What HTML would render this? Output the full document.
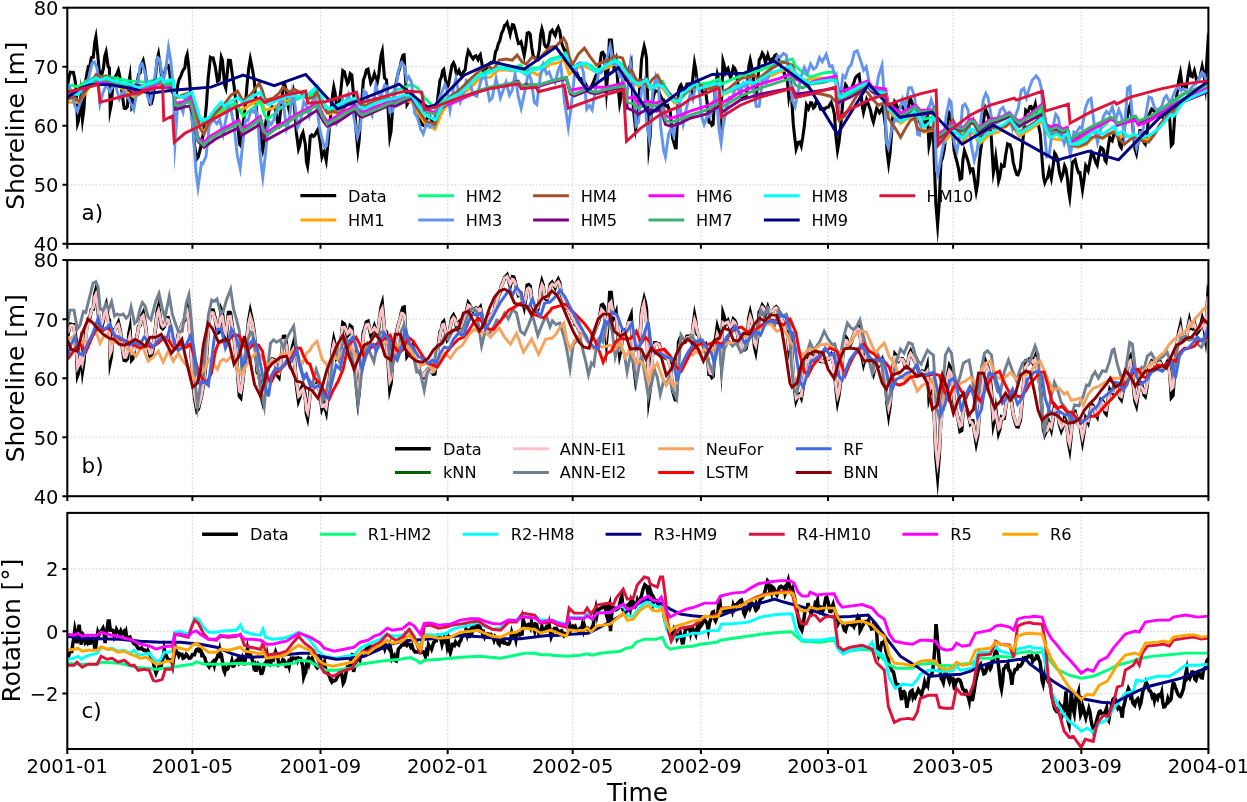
<!DOCTYPE html>
<html lang="en"><head><meta charset="utf-8"><title>Shoreline and rotation time series</title>
<style>html,body{margin:0;padding:0;background:#fff}body{width:1247px;height:802px;overflow:hidden}svg{display:block;will-change:transform}text{font-family:"DejaVu Sans","Liberation Sans",sans-serif;fill:#000}.tk{font-size:19.5px}.lb{font-size:24.9px}.lg{font-size:16.2px}.pl{font-size:21.5px}.s{fill:none;stroke-linejoin:miter;stroke-miterlimit:4;stroke-linecap:butt}.m{stroke-miterlimit:6}.x{stroke-miterlimit:25}</style></head><body>
<svg width="1247" height="802" viewBox="0 0 1247 802">
<rect width="1247" height="802" fill="#fff"/>
<g id="panel-a">
<path d="M192.4 7.7V243.8M320.5 7.7V243.8M447.7 7.7V243.8M572.7 7.7V243.8M700.9 7.7V243.8M828 7.7V243.8M953.1 7.7V243.8M1081.3 7.7V243.8M67.3 184.8H1208.4M67.3 125.7H1208.4M67.3 66.7H1208.4" stroke="#b0b0b0" stroke-opacity="0.44" stroke-width="1.3" stroke-dasharray="1.8 1.75" fill="none"/>
<clipPath id="cp-a"><rect x="67.3" y="7.7" width="1141.1" height="236.2"/></clipPath>
<g clip-path="url(#cp-a)">
<path class="s x" d="M67.7 84.2L69.1 76.5L70.4 72.1L72 72.4L73.4 72.5L74.8 78.9L76 87.4L77.6 123.4L78.4 120.9L79.6 109.8L80.7 96.8L82.5 119.6L83.9 109.4L85.7 80.9L87.1 72.4L88.5 66.2L89.9 65.7L91.3 57.7L92.4 57L93.3 57.1L94.8 42L95.9 37L97.6 53.2L99.3 71.3L100.7 73.5L101.8 74.6L103.4 68.4L104.8 56.2L106.1 52.1L108.1 66.5L109.4 68.1L110.2 109.8L111.3 104.3L112.9 84.2L114.3 77.5L115.7 76.2L117.1 73.3L118.4 70.1L120.1 77.9L121.7 89L123 100.1L124.2 108.2L125.8 108.5L127.4 106.6L128.8 82.2L129.9 76L131.8 107.8L132.8 106.3L134.2 98.4L135.6 89.7L137 84.2L138.6 74.3L140.2 72.9L141.8 63.5L143.2 60.5L144.6 67.9L145.8 76.1L147.1 88.2L148.5 96.8L150.1 104.2L151.4 103.7L153 97L154.4 83.9L155.8 74.1L157.2 59.3L158.5 53.9L160 64.1L161.4 75.3L162.8 76.6L164.3 74.5L165.6 68.7L167 65.8L168.2 65.5L169.7 72.2L171 86.1L172.3 92.2L173.6 93.4L174.9 96.2L176 96.4L177.9 84.2L179.2 79.1L180.6 76.7L181.9 72.9L183.3 69.8L184.8 68.1L186.1 57.6L187.2 54.4L188.6 66.1L189.8 82.1L191.4 105.6L193 128.2L194.8 147.3L196.9 158.9L198.3 156.9L200 150.2L201.7 142.9L203.4 132.4L205 120.1L206.6 102.7L208.1 79L210.4 57.4L211.6 58.1L213.1 58L215.1 66L217.5 81L219.1 80L221.3 57.2L222.3 59.8L223.5 72L224.8 85.4L225.8 88.2L228.5 60.4L229.5 60.4L230.4 60.6L232.4 75.1L234.1 86.1L235.6 99.5L237.1 112.1L238.3 129.5L239.5 144.2L240.8 145.8L242.6 130.3L244.1 116.1L245.6 102.2L247.1 84.1L248.7 68.5L250.3 58.9L252.2 68L254.2 80L255.7 98.7L257.2 120.1L258.7 122.4L260.2 130.2L261.5 145.5L262.7 150.6L264 144.3L265.2 126.2L266.5 118.2L267.9 117.4L269.2 110.1L270.7 109L272.2 106.9L273.7 107.3L275.2 108.1L276.6 116.5L277.9 123.9L278.9 125.3L280.6 110.5L281.9 99.5L283.5 84.4L284.7 84.2L286.2 90.1L287.7 104.5L289.2 110.7L290.6 104.4L291.9 97.2L293.1 92.3L294.8 111.2L296.3 132.2L298.5 149L299.8 145.2L301.3 136.2L303 132.5L305.3 144.2L306.5 161.9L307.6 166.2L309 153.5L310.3 136.2L311.7 134.8L313.4 136.4L314.8 135.3L316.3 132.2L318 129.2L320 141.2L321.9 156.7L323 153.3L324.1 151.5L326.2 160.6L328.3 140.2L329.8 123.6L331.4 108.1L332.6 94.8L333.8 87L335.1 92.9L336.7 107L338.1 105.7L339 105.4L340.9 89.9L342.8 70.7L344.4 72L345.9 77.9L347.5 83.7L348.6 82L350.2 73.6L351.8 75L353.1 90.1L354.4 100.1L356.1 130.4L357.9 150L359.1 140.9L360.4 120.1L361.9 100.2L363.4 80L364.9 76L366.4 70L368 69.1L370.8 83L372.4 80L374.4 73.7L376 78.7L377.3 82.1L378.7 75.4L379.9 64L381.2 54.8L382.3 51L384.5 78L386.5 80L388.5 116.1L389.8 137.2L391 131.5L392.5 110.1L394 98.1L395.5 86.1L397 78.6L398.5 72L400 67.4L401.5 60L403 55.3L404.1 54.9L407 104.5L408 102.8L409.5 100.1L411 98.1L412.5 93.5L414 98.2L415.6 106.1L416.9 111.1L418.2 112.3L419.6 120.1L420.9 121.6L422.2 124.7L423.3 125.3L425.1 120.1L426.1 119.9L427.7 117.2L428.9 117.6L430.1 117.1L431.6 120.1L433.3 122L434.7 121.8L437 104.2L438.5 92L440 80.2L441.4 77L442.7 70.5L443.8 69.3L445.5 80L447.2 87.3L448.5 84.7L450 76.2L451.9 65.6L453.5 62.9L454.9 65.8L456.4 74.4L457.6 73.3L459 70.5L460.6 75.1L461.9 75.6L463.6 71.6L465.1 70.1L466.6 58.8L468.3 50.7L469.6 52.7L471.1 56.1L473.1 58.9L474.6 56.5L475.9 55.8L478 59.6L479.3 56.2L480.3 54.7L481.8 62.9L483.4 73.3L484.6 71.3L486.1 68.1L487.7 67.1L489.3 63.7L490.9 62.5L492.4 63L494.2 60.1L495.5 51.7L496.8 49.9L498.2 44.1L499.8 40.9L501.5 33.5L503.2 30L504.7 25.3L505.7 25L507.1 22.8L508.7 28.4L510.2 34.4L512.5 24.7L513.7 25L515.2 30L516.7 36.7L518.5 43.6L519.7 43.3L521 41.9L522.7 48.6L524.2 55.4L525.7 46.5L527.2 33.1L528.7 32.5L530.2 34.1L531.7 47.2L533.2 56.1L534.8 57.7L536.2 59.3L537.8 57.4L539.3 50.1L540.6 34.9L541.9 28.9L543.1 33L544.3 44.1L545.8 47L547.1 47.5L548.8 42.5L550.3 32.1L552.2 30.1L553.8 33.2L555.2 35.6L556.8 29.8L558.2 27.1L559.8 31.1L561.3 42.1L562.8 46.3L564.3 50.1L565.7 50.1L567 56.1L568.3 56.1L569.9 61.1L570.8 61.3L572.3 66.1L573.7 66.7L575 72.1L576.4 72.1L577.9 75.6L579.4 79.1L580.9 78.7L582.5 81.8L584 81.4L585.6 84L587.4 88L588.7 87.8L590.3 88.9L592 85.2L593.6 81.6L595.2 77.7L596.8 73.6L598.4 70.1L599.9 64.3L601.4 53.1L602.8 52.4L604.4 55.1L606.5 89.8L607.9 72L609.4 40.1L611.4 40.1L613.8 66.5L614.9 64.5L616.1 60.3L618 85.1L619.7 103.5L621 97.3L622.8 77.2L624 77.7L625.5 79.5L627 78L628.5 70.1L630 65.9L631.1 62.6L633.5 110.2L635.6 128.8L637 120.5L638.5 106.2L640 84.7L641.5 60.1L642.8 52.8L644.2 46.3L645.3 50.6L646.5 58.1L648.9 146.3L650 137.4L651.5 110.2L653 98.9L654.8 90.6L656 90.7L657.5 91.5L659 91.9L660.6 96.2L662.1 99.3L663.6 99.9L665.1 105.7L666.6 106.2L667.7 105.6L669.5 110.7L670.2 111.1L672.6 138.3L673.9 142.9L675.3 147.7L676.2 147.8L678.6 90.2L680 86.2L681 84.9L682.5 89.2L684 90.1L685.5 89.7L687 84.1L688.5 84.1L689.7 83.8L691.7 90.1L693.3 73L694.5 62.8L695.8 69.7L697.1 82.1L698.6 83L700.1 88.1L701.6 89.9L703.3 93.6L704.6 93.2L705.7 92.1L707.6 106.3L709.1 122.2L710.4 122.3L711.9 125.3L713.1 124.2L715.1 90.1L717.3 74.1L718.6 78.8L720.1 88.1L721.2 110.1L723 60.9L723.8 63.6L725.4 72.4L726.6 69.5L727.9 68.1L730.3 77.2L731.6 74.9L733.4 67L734.7 68.4L736.2 72.1L737.7 82.9L739.2 90.1L740.7 94.2L742.3 98.5L743.7 97.3L744.8 97.7L746.2 96.2L747.5 84.2L748.9 66L750.2 59.9L751.7 67L753.2 76.1L754.5 94.3L755.7 99.8L757.5 85.6L759.2 60.1L760.7 57.6L762.3 53.1L763.7 55.4L765.3 62.4L766.5 59.4L767.8 54.9L769 58.9L770.2 60.7L771.9 59L773.1 59.2L774.8 55.6L776.2 54.6L777.8 56.6L779.3 62.1L780.9 65.9L782.5 68.8L784.1 72.7L785.7 78.3L787.3 80.1L788.8 97.1L790 90.5L791 87.2L793.3 124.2L794.6 136.4L796.1 148.9L797.1 145.9L798.3 142.3L800 141.9L801.3 145.8L802.8 136.9L804.3 126.2L806.5 105L808.5 108.7L810.6 102.7L811.8 102.9L813.5 107.9L814.8 106.7L816.4 101.2L817.9 103.4L818.8 103.6L820.4 109.2L821.7 109.5L823 108.7L824.3 109.6L825.7 108L827 107.2L828.4 107.2L829.9 104.6L831.2 102.4L832.9 107.7L834.4 114.2L835.9 135.9L837.5 150.3L838.9 142.8L840.4 130.2L841.9 112.1L843.4 96.2L845.6 84.7L846.9 86.7L848.7 94.4L849.8 93.2L851.1 90.9L852.4 86.1L853.8 82.8L855.2 78.2L856.6 76.3L858.1 74.9L859.1 74.3L860.8 88.8L862.1 105L863.5 112.4L865 106.4L866.6 99.7L867.8 102.8L869.1 106.3L870.5 110.2L872 117.8L873.4 122.1L875 115.4L876.7 108.4L878 110.2L879.5 112.8L881 110.5L882.4 107.5L884 114.7L885.5 126.2L887 151L888.6 163.4L890 153.5L891.5 134.3L893 115.1L894.8 101.7L895.9 103.1L897.2 107.8L898.4 109L900.1 106.6L901.2 107L902.4 106.6L903.9 109L905.2 115.3L906.4 115.7L907.9 112.3L909.2 102L910.6 98.8L912.2 103.4L913.9 107.4L915.6 110.2L917.1 113.3L918.5 119.3L920 122.3L922.2 119L923.5 119.8L924.9 122.9L926.3 117.2L927.3 113.6L929 145.9L929.8 142.3L931.4 128.2L932.4 128.3L933.2 128.6L934.3 162.3L935.9 204.5L937.6 225L939.2 203.7L940.9 162.3L942.5 157.8L944.1 150.2L945.6 138.6L947.1 126.2L949.4 113.2L951.1 116.2L952.6 130.7L954.1 150.2L955.6 156.8L957.1 162.3L958.4 168.1L960.1 179.2L961.7 178.3L962.9 160L964.4 150.7L965.6 154L967.1 158.3L968.6 163.4L970.3 171.2L971.6 168.7L972.9 168.7L974.7 181.3L976.2 191.4L977.7 183.2L979.2 162.3L980.7 149.2L982.2 140.2L983.7 119.1L985.4 108.7L986.7 112.3L988.2 116.2L989.7 123.8L991.2 136.2L993.4 172.6L994.5 167L995.8 157.1L997.1 167.9L998.6 181L999.8 177L1001.5 165.2L1002.9 166.7L1004.2 166.3L1005.7 154.8L1007.6 144L1008.9 144.7L1010 144.8L1011.7 150.3L1013.2 162.3L1015.3 170.3L1016.8 174.5L1018 174.8L1020.3 168.3L1021.8 152.3L1023.3 136.2L1025.7 110.3L1026.8 111.5L1028.1 111.7L1029.8 106.6L1031 106.5L1033.1 111.2L1035.3 104L1037.3 116.2L1038.8 126.8L1040.3 134.2L1042.3 162.3L1043.5 177.1L1044.8 182.6L1046 179.5L1047.3 178.3L1049.2 170L1051.3 178.4L1052.8 168.2L1054.7 153L1055.9 154.7L1057.4 158.3L1059.4 172.3L1061.3 178.8L1062.9 174.4L1064.6 165.8L1065.9 168.6L1067.4 178.3L1068.6 190.8L1069.7 197.3L1071.1 183.2L1072.4 162.3L1073.9 161L1075.1 159.8L1076.9 167.9L1078.6 172.6L1079.9 172.6L1082.5 189.9L1083.9 180.6L1085.7 165.5L1086.9 167.4L1088.2 170.5L1089.9 161.6L1091.7 152L1092.9 153.3L1094.4 158.3L1095.9 162.7L1097.2 165.1L1099 154.6L1100.7 147.4L1102 148.2L1103.5 150.2L1105 160.3L1106.1 161.8L1108 148.7L1109.7 137.5L1111 139.8L1112.2 140.9L1114 134L1115.4 131.9L1117 135.4L1118.5 138.2L1120 145.9L1121.3 147.8L1123 139.3L1124.5 126.2L1126 121.3L1127.5 116.2L1129 108L1130.3 104.8L1132 118.1L1133.5 134.2L1135 149.3L1136.4 153.7L1138 142.5L1139.8 130.6L1141.1 130.6L1142.6 136.2L1144.1 142.8L1145.3 144.2L1147.1 133.9L1148.6 116.2L1150.1 112.3L1151.7 108.9L1153.1 109.8L1154.6 112.1L1156.1 115.6L1157.4 115.7L1158.8 110.1L1159.9 109.1L1161.2 111.9L1162.6 116.3L1163.7 114.6L1164.9 114.5L1166.1 111.9L1167.3 109.8L1168.5 112.1L1169.7 118.5L1171.3 145.4L1172.9 143.4L1174.8 114.5L1176 101.6L1177.2 92.1L1178.8 79.9L1180.4 72.7L1182.5 88.1L1183.7 88.2L1184.9 85.3L1186.5 86.6L1188.1 74.8L1189.4 67.7L1191 76L1192.3 76.7L1194.4 70.7L1196.9 81.5L1198.6 79.2L1200.2 76L1202.2 66.5L1203.9 74.4L1205.4 85.8L1206.7 63.2L1208 41.9L1208.5 44" stroke="#000000" stroke-width="3.1"/>
<path class="s" d="M67.6 102.2L79 102.2L86.1 92.2L96.1 77.1L106.1 79.1L120.1 87.2L134.2 97.2L146.2 90.2L161.2 79.1L164.3 85.2L172.3 88.2L174.7 98.2L184.9 95.8L191 94.1L195 108.1L200 127.2L204 132.2L209.1 121.1L215.1 115.1L225.1 110.1L235.1 103.1L240.1 110.1L245.1 108.1L253.2 103.1L260.2 99.1L265.2 110.1L273.2 108.1L281.2 102.1L289.3 100.1L297.3 97.1L305.3 94.1L309.3 98.1L317.3 95.1L323.3 107.1L329.3 114.1L337.4 111.1L345.4 105.1L355.4 101.1L359.4 110.1L365.4 111.1L375.5 106.1L385.5 104.1L395.5 105.1L403.5 100.1L411.5 102.1L417.6 112.1L425.6 124.2L435 129.2L442 112.2L450 101.2L460.1 96.2L470.1 88.2L480.1 78.2L490.1 77.2L498.2 70.1L506.2 70.1L514.2 71.1L520.2 70.1L526.2 75.2L532.2 72.1L538.3 75.2L544.3 69.1L550.3 64.1L556.3 63.1L564.3 60.1L569.3 74.2L574.3 70.1L582.4 65.1L590.4 69.1L596.4 72.1L602.4 70.1L614.4 64.1L622.5 67.1L627.5 76.2L632.5 82.2L638.5 86.2L646.5 82.2L650.5 89.2L656.5 86.2L662.6 88.2L668.6 96.2L674.6 103.2L680 102.2L682 96.2L696.1 85.1L719.1 86.1L721.7 95.2L740.2 87.1L762.2 80.1L776.3 73.1L790.3 68.1L795.3 75.1L802.3 80.1L810.3 79.1L820.4 78.1L836 79.1L838.4 97.2L850.4 94.2L867.5 84.1L876.5 93.2L885.5 94.2L888.5 110.2L900.6 123.2L914.6 113.2L920 120.2L924 132.2L932.1 130.2L935.1 119.2L938.1 143.2L944.1 143.2L950.1 134.2L958.1 140.2L963.1 142.2L970.1 132.2L974.2 134.2L979.2 144.2L990.2 134.2L998.2 132.2L1010.2 123.2L1014.3 129.2L1019.3 136.2L1030.3 129.2L1042.3 121.2L1046.3 132.2L1050.3 138.2L1062.4 140.2L1067.4 136.2L1070.4 146.2L1078.4 147.2L1086.4 144.2L1096.4 134.2L1102.5 138.2L1114.5 130.2L1118.5 136.2L1130.5 136.2L1140.6 140.2L1148.6 139.2L1160 127.2L1170.5 113.7L1183.3 100.1L1207.4 89.7L1208.5 89.4" stroke="#FFA500" stroke-width="2.95"/>
<path class="s" d="M67.6 86.2L72 85.2L78 87.2L86.1 81.1L96.1 77.1L106.1 76.1L120.1 79.1L130.2 81.1L146.2 82.1L161.2 78.1L164.3 82.1L173.3 81.1L174.7 96.2L184.9 97.8L192 93.1L196 108.1L200 120.1L204 123.2L209.1 119.1L215.1 114.1L225.1 108.1L235.1 103.1L239.1 109.1L243.1 116.1L249.2 111.1L255.2 106.1L260.2 101.1L264.2 114.1L267.2 119.1L273.2 115.1L281.2 107.1L289.3 103.1L297.3 99.1L305.3 95.1L309.3 96.1L317.3 90.1L323.3 103.1L329.3 110.1L337.4 107.1L345.4 103.1L355.4 98.1L359.4 103.1L365.4 105.1L375.5 102.1L385.5 98.1L395.5 90.1L403.5 88.1L411.5 84.1L417.6 88.1L425.6 99.1L435 108.1L436 106.2L442 102.2L450 96.2L460.1 90.2L470.1 83.2L480.1 74.2L490.1 70.1L498.2 67.1L506.2 68.1L514.2 68.1L520.2 65.1L526.2 71.1L532.2 68.1L538.3 68.1L544.3 64.1L550.3 59.1L558.3 57.1L565.3 53.1L570.3 66.1L574.3 66.1L582.4 63.1L590.4 65.1L596.4 70.1L602.4 68.1L614.4 59.1L622.5 65.1L627.5 74.2L632.5 79.2L638.5 83.2L646.5 79.2L650.5 87.2L656.5 83.2L662.6 81.2L668.6 94.2L674.6 101.2L680 100.2L690 88.1L700.1 84.1L710.1 82.5L719.1 79.1L721.7 84.1L730.1 80.1L740.2 76.1L750.2 73.1L760.2 70.1L770.2 66.1L780.3 62.1L792.3 59.1L795.3 66.1L802.3 72.1L810.3 77.1L822.4 73.1L830.4 72.1L836 73.1L838.4 90.1L844.4 94.2L854.4 88.1L867.5 81.1L872.5 87.1L878.5 90.1L885.5 92.1L888.5 108.2L894.5 112.2L900.6 118.2L910.6 110.2L915.6 107.2L920 114.2L924 119.2L932.1 117.2L935.1 112.1L938.1 139.2L944.1 135.2L950.1 127.2L958.1 129.2L963.1 132.2L970.1 123.2L974.2 124.2L979.2 134.2L990.2 125.2L998.2 122.2L1010.2 116.2L1014.3 122.2L1019.3 127.2L1030.3 120.2L1042.3 110.1L1046.3 128.2L1050.3 132.2L1062.4 133.2L1067.4 129.2L1070.4 142.2L1078.4 141.2L1086.4 136.2L1096.4 127.2L1102.5 127.2L1110.5 119.2L1114.5 120.2L1117.5 125.2L1130.5 121.2L1136.5 118.2L1140.6 123.2L1150.6 119.2L1160 112.1L1170.5 104.9L1183.3 94.5L1207.4 85.7L1208.5 85.3" stroke="#00FF7F" stroke-width="2.95"/>
<path class="s x" d="M67.6 84.2L70 88.2L75 106.2L77.5 111.5L82.1 96.2L88.1 80.1L92.1 63.1L94.3 61.8L97.1 68.1L100 104L103.1 92.2L106.5 84.6L110.1 91.6L113.4 85.1L116.1 87.2L119.3 99.1L123.4 91.4L127.2 95.2L130.6 103.2L133.8 109.8L137.2 89.2L140.2 65.1L142 63.6L145.2 73.1L147.6 97.2L150.3 102.7L153.8 84.2L157.6 57.5L159.6 59.1L162.9 81.5L165.3 73.1L168.5 47.5L170.7 60.1L173.3 87.2L175 142.6L177.3 110.2L179.6 103.7L183 112.3L184.9 100.2L187 94.8L190 103.1L193 128.2L196 172.3L198 187.5L201.5 163L203 163.5L206.1 156.2L209.1 126.2L213.1 119.4L216.9 123.6L219.7 119.6L223.1 134.2L226.1 118.1L228.5 107L231.1 110.1L234.1 126.2L237.1 154.2L240.2 168.4L243.1 140.2L245.6 119.8L247.8 120.7L251.4 110.1L253.9 112.1L255.9 109.1L258.2 126.2L260.2 156.2L262.8 177.3L265.2 156.2L268.7 121.6L271.2 124.4L274.2 119.1L277.2 108.1L280.4 100L283.2 102.1L286.6 128.7L289.3 120.1L292.4 91.7L294.3 100.1L297.7 127.5L300.3 122.1L303.7 101.8L306.3 106.1L309.2 115.8L312.3 102.1L315 94.5L317.3 109.1L319.3 126.2L321.3 136.2L324.6 147.3L326.3 146.2L328.3 130.2L330.3 126.2L333.4 120.7L336.1 123.9L339.4 112.1L342.5 99.1L345.3 104L348.5 94.4L351.4 104.1L354.4 120.1L357.5 137L360.4 126.2L363.9 90.8L366.4 93.1L369.4 110.1L372 115.2L375.8 85.2L378.5 94.1L381.2 95.3L384.7 85L386.5 86.1L389.9 112.2L392.5 111.1L395.5 90.1L398.5 70L401.7 62.4L404.5 66L406.7 80.5L408.8 76.8L411.5 82.1L414.6 113.1L417.6 118.1L420.6 129.2L423.3 133.8L426.8 122.8L429.7 127.1L432.5 125.1L434.5 126.7L437 104.2L441 94.2L444.9 84.7L447 90.2L450 109.9L453.1 90.2L455.9 78.4L460.4 101.7L463.1 94.2L466.4 80.6L470.1 84.2L473.1 94.2L476.8 96.3L481.1 80.2L484.7 73.4L489.6 100.6L492.1 98.2L496.1 78.7L500.4 97.9L503.2 90.2L506 82.2L509.5 95.3L512.2 90.2L515.1 74L518.2 96.2L521.2 108.2L524.2 94.2L528.4 72.3L531.2 80.2L534.3 102.2L536.8 104.5L540.3 76.2L543.3 64.5L546.6 74L549.1 71.9L552.3 80.2L555 82.8L558.3 70.1L560.8 64.4L564.3 100.2L568.3 127.5L571.3 106.2L574.3 76.2L577.4 64.1L580.1 62.8L583.4 72.1L586.8 109.1L589.4 105.4L592.1 109.9L595.4 90.2L598.8 71.7L601.3 73L604.4 66.1L607.4 56.1L610.2 45.7L613.9 64.5L616.1 63.6L619.7 76.8L622 74.6L625.5 105.7L627.5 90.2L630.5 63L632.5 76.2L636.1 125.6L638.5 122.3L641.5 90.2L644 82.5L646.5 122.3L649.2 139.1L652.5 94.2L655.8 76.4L658.5 84.2L660.6 126.3L663.6 150.3L665.4 156.8L668.6 134.3L671.2 128.1L673.6 135.4L676.6 118.3L679.6 102.4L681 114.2L683.1 124.4L686 110.2L690 94.6L692.8 100.2L696.4 81.5L699.1 90.1L702.1 118.2L704.1 124.6L707.4 115.6L709.8 116.9L713.1 106.2L715.8 90.3L719.1 130.2L721.1 143L723.1 126.2L726.1 110.2L729.5 97.6L731.8 98.8L736.3 85.5L740 92.6L743.3 83.3L746.1 87.3L750.1 77.7L753.2 88.1L756.2 106.2L759.2 106.2L762.7 78.1L766.1 83.3L770.2 70.1L774.3 66.1L777.5 56.1L780.2 57.4L783.4 53.5L786.3 55.1L789.3 76.1L792.3 100.2L795 106.7L798.3 90.1L801.3 76.1L804.3 67.5L807.3 73.9L810.6 64.1L813.6 69.2L816.4 67.1L819.5 57.6L822.3 61.7L826.2 54.4L829.7 66.3L832.1 65.8L835.4 78.1L838.5 110.7L840.4 96.2L842.9 75.4L845.3 77.7L848.4 68.1L851.4 64.1L854.4 52.1L857.2 50.7L860.5 60.1L863.6 70.2L866.2 66.7L869.5 84.1L872.5 88.1L875.2 95.8L878.5 76.1L882 65.3L884.5 98.2L886.5 142.3L888.4 147.8L891.5 130.2L894.8 119.5L897.2 120.8L900.6 106.2L902.5 99L905.5 107.7L908.6 88.1L911.4 87.6L914.6 96.2L917.6 134.3L919.6 135.2L922.5 112.7L925.1 115.2L928 112.1L931.2 99.8L934.1 108.1L936.5 170.3L937.9 175.2L940.1 162.3L943.1 146.2L946.1 116.2L949.4 100L951.1 102.1L954.1 142.2L956.9 151.5L960.1 134.2L962.5 106.1L965 104L968.1 110.1L971.1 144.2L974.3 160.4L977.2 150.2L980.2 126.2L983.2 100.1L985.8 93.3L988.2 98.1L991.2 116.2L994.3 127.2L997.2 120.2L1000.2 110.1L1003 107.4L1006.4 114.4L1008.8 112.5L1012.4 128.3L1015.3 116.2L1018.3 108.1L1021.3 90.1L1023.9 88.3L1026.5 97.6L1029.3 88.1L1032.3 80.1L1036.2 75.9L1039.3 80.1L1041.3 88.1L1043.3 120.2L1046.8 156.5L1049.3 154.3L1052.3 130.2L1055.7 114.4L1058.4 118.2L1061.4 134.2L1064.3 143.9L1067.1 137.1L1070.4 155.3L1073.9 131.9L1076.2 133.1L1079.6 127.3L1082 128.6L1085.4 108.1L1088.4 100.1L1091 98.4L1094.4 126.2L1097.5 142.6L1100.5 130.2L1103.5 116.2L1106.5 111.4L1109.2 114.1L1112.3 107.1L1115.6 119.9L1118.8 109.7L1121.5 116.2L1124.2 134.3L1127.5 88.1L1130 86.4L1133.5 134.2L1136.5 148L1140 132.6L1142.2 133.9L1145.6 116.2L1148.9 96.9L1151.6 98.1L1154.6 108.1L1157.6 110.1L1160 108.1L1161.7 106.5L1164.1 98.5L1166.4 95.7L1168.9 100.9L1171.3 100.1L1173.7 94.5L1176.1 88.9L1178.4 87.2L1181 90.9L1183.4 88.7L1185.7 90.5L1188.1 92.8L1190.5 88.9L1193 85.7L1195.4 84.1L1197.8 80.9L1200.2 76L1201.9 72.3L1204.2 74.4L1206 80L1207.4 79.2L1208.5 78.9" stroke="#6495ED" stroke-width="2.95"/>
<path class="s" d="M67.6 99.2L74 97.2L79 101.2L86.1 90.2L96.1 74.5L100.1 77.1L106.1 76.1L112.1 79.1L120.1 84.2L130.2 89.2L138.2 94.2L146.2 89.2L154.2 84.2L161.2 77.1L164.3 84.2L172.3 86.2L174.7 97.2L180.3 96.2L184.9 94.2L191 93.1L195 107.1L200 128.2L204 134.2L209.1 122.1L215.1 113.1L225.1 103.1L231.1 95.1L237.5 91.1L243.1 101.1L251.2 94.1L259.2 83.1L262.2 90.1L265.2 100.1L273.2 98.1L279.2 93.1L283.2 87.1L289.3 92.1L294.3 89.1L301.3 93.1L307.3 99.1L313.3 97.1L317.3 92.1L322.3 105.1L327.3 113.1L333.4 111.1L339.4 114.1L347.4 104.1L355.4 99.1L359.4 105.1L365.4 106.1L375.5 101.1L385.5 99.1L395.5 98.1L405.5 95.1L411.5 97.1L417.6 109.1L425.6 121.1L435 124.2L440 110.2L450 97.2L460.1 89.2L470.1 79.2L480.1 70.1L488.1 65.1L493.2 70.1L499.2 60.1L506.2 59.1L512.2 60.1L517.2 55.1L522.2 62.1L526.2 64.1L532.2 57.1L538.3 60.1L544.3 53.1L550.3 47.1L556.3 46.1L563.3 38.1L566.3 43.1L569.3 57.1L572.3 65.1L578.4 54.1L584.4 48.1L590.4 57.1L596.4 65.1L602.4 62.1L608.4 60.1L614.4 56.1L622.5 58.1L627.5 73.2L631.5 70.1L636.5 80.2L642.5 80.2L647.5 86.2L652.5 79.2L657.5 75.2L662.6 85.2L668.6 92.2L674.6 99.2L680 98.2L686 92.1L694.1 87.1L701.1 85.1L705.1 89.1L712.1 88.1L719.1 85.1L721.7 92.1L728.1 89.1L736.2 82.1L742.2 78.1L750.2 77.1L754.2 75.1L758.2 79.1L764.2 74.1L770.2 69.1L776.3 66.1L781.3 62.1L787.3 63.1L792.3 65.1L795.3 73.1L800.3 80.1L808.3 87.1L814.3 93.2L822.4 94.2L830.4 96.2L836.4 102.2L839.4 120.2L844.4 116.2L850.4 106.2L856.4 96.2L862.5 90.1L867.5 92.1L872.5 99.2L878.5 105.2L885.5 102.2L888.5 118.2L892.5 124.2L896.5 130.2L900.6 137.3L905.6 128.2L910.6 120.2L914.6 118.2L917.6 129.2L920 130.2L924 131.2L932.1 129.2L935.1 118.2L938.1 141.2L944.1 134.2L950.1 124.2L953.1 120.2L958.1 131.2L963.1 138.2L970.1 124.2L973.2 119.2L979.2 136.2L990.2 128.2L998.2 127.2L1006.2 126.2L1010.2 121.2L1014.3 128.2L1019.3 132.2L1030.3 125.2L1042.3 117.2L1046.3 131.2L1050.3 136.2L1056.4 133.2L1062.4 137.2L1067.4 136.2L1070.4 145.2L1078.4 146.2L1086.4 143.2L1090.4 138.2L1096.4 136.2L1102.5 138.2L1108.5 134.2L1114.5 132.2L1118.5 138.2L1124.5 144.2L1130.5 139.2L1136.5 136.2L1142.6 141.2L1148.6 142.2L1154.6 134.2L1160 124.2L1170.5 112.9L1183.3 99.3L1207.4 88.9L1208.5 88.5" stroke="#A0522D" stroke-width="2.95"/>
<path class="s" d="M67.6 94.6L78 93.8L86.1 88.2L96.1 83.8L106.1 81.1L120.1 84.6L134.2 85.2L146.2 86.2L156.2 80.1L161.2 82.1L164.3 87.2L173.3 87.2L175.3 109.2L180.3 108.2L184.9 106.6L190 106.1L194 118.1L198 141.2L204 147.2L215.1 139.2L231.1 131.2L238.7 128.2L242.1 135.2L260.2 124.2L263.6 137.2L266.2 140.2L275.2 135.2L297.3 123.2L317.3 110.1L323.3 121.1L327.3 126.2L337.4 122.1L355.4 110.1L359.4 116.1L362.4 117.1L371.4 113.1L389.5 105.1L395.5 106.1L411.5 98.1L417.6 106.1L425.6 113.1L435 112.5L436 115.5L442 107.4L450 102.2L460.1 99.2L470.1 95.2L480.1 91.2L490.1 88.2L504.2 85.6L518.2 81.2L521.2 85.8L526.2 84.6L534.3 85.8L538.3 86.6L550.3 82.6L566.3 78.6L570.3 93.8L574.3 95.8L586.4 90.8L590.4 92.8L596.4 93.8L606.4 90.8L616.4 88.6L624.5 87.2L627.5 108.2L634.5 111.2L638.5 114.3L646.5 109.2L656.5 111.2L660.6 109.2L665.6 124.3L670.6 126.3L680 123.3L690 118.2L706.1 114.2L719.1 106.2L721.7 112.2L740.2 100.2L760.2 94.2L780.3 90.1L792.3 88.1L795.3 94.2L810.3 92.1L836 88.1L838.8 102.2L850.4 97.2L867.5 86.1L872.5 92.1L885.5 95.2L888.5 109.2L900.6 118.2L915.6 109.2L920 114.2L932.1 113.2L935.1 110.1L938.1 137.2L944.1 133.2L952.1 127.2L958.1 129.2L963.1 130.2L970.1 122.2L974.2 123.2L979.2 130.2L990.2 123.2L998.2 121.2L1010.2 116.2L1014.3 120.2L1019.3 126.2L1030.3 120.2L1042.3 114.2L1046.3 127.2L1050.3 130.2L1056.4 129.2L1062.4 132.2L1067.4 131.2L1070.4 141.2L1078.4 137.2L1090.4 129.2L1098.5 125.2L1110.5 119.2L1114.5 120.2L1117.5 125.2L1130.5 120.2L1135.5 118.2L1138.5 123.2L1150.6 118.2L1160 113.2L1170.5 108.1L1183.3 101.7L1207.4 92.1L1208.5 91.8" stroke="#800080" stroke-width="2.95"/>
<path class="s" d="M67.6 93.8L78 92.6L86.1 87.2L96.1 82.6L106.1 82.1L120.1 86.2L134.2 90.2L146.2 87.8L161.2 82.6L164.3 86.2L173.3 85.8L175.3 103.2L180.3 102.6L184.9 101.2L190 98.7L193 109.7L198 137.2L204 142.2L209.1 136.8L221.1 129.8L231.1 124.6L238.7 120.1L242.1 128.8L249.2 124.8L260.2 116.5L263.6 128.8L267.2 132.6L275.2 126.8L285.2 121.7L297.3 113.7L307.3 108.7L317.3 102.7L323.3 115.7L327.3 121.7L337.4 115.7L345.4 110.7L355.4 105.7L359.4 110.7L362.4 112.7L371.4 108.7L381.5 104.7L389.5 100.7L395.5 100.7L403.5 97.1L411.5 94.5L417.6 101.1L425.6 110.1L435 112.5L436 112.6L442 105.8L450 104.2L460.1 99.6L470.1 95L480.1 90.6L490.1 87.6L504.2 85L518.2 82.6L521.2 85.6L526.2 86.6L534.3 84.6L538.3 85.6L550.3 81.6L566.3 77.6L570.3 90.2L586.4 87.2L606.4 87.2L623.5 83.2L627.5 98.2L634.5 97.2L638.5 104.2L646.5 101.2L656.5 103.2L660.6 101.2L665.6 115.3L670.6 118.3L680 115.3L690 111.2L706.1 106.2L719.1 99.2L721.7 103.2L740.2 92.1L760.2 84.1L780.3 78.1L790.3 73.7L793.3 78.1L802.3 82.1L810.3 82.5L822.4 79.1L836 76.1L838.8 92.1L850.4 88.1L867.5 81.1L872.5 87.1L885.5 89.1L888.5 104.2L900.6 113.2L915.6 105.2L920 110.2L932.1 110.1L935.1 107.1L938.1 134.2L944.1 130.2L953.1 123.2L958.1 127.2L963.1 128.2L970.1 119.2L974.2 120.2L979.2 128.2L990.2 119.2L998.2 118.2L1010.2 113.2L1014.3 118.2L1019.3 121.2L1030.3 114.2L1042.3 104.1L1046.3 124.2L1050.3 127.2L1056.4 125.2L1062.4 129.2L1067.4 127.2L1070.4 142.2L1078.4 138.2L1090.4 130.2L1098.5 126.2L1110.5 119.2L1114.5 120.2L1117.5 124.2L1130.5 121.2L1135.5 120.2L1138.5 125.2L1150.6 120.2L1160 114.2L1170.5 106.5L1183.3 99.3L1207.4 88.1L1208.5 87.7" stroke="#FF00FF" stroke-width="2.95"/>
<path class="s" d="M67.6 90.6L78 90.2L86.1 85.2L96.1 80.1L106.1 80.1L120.1 83.8L134.2 89.2L146.2 86.2L161.2 81.1L164.3 85.2L173.3 84.2L175.3 105.2L180.3 105.2L184.9 103.2L190 101.1L193 112.1L198 140.2L204 145.2L209.1 139.2L221.1 132.2L231.1 127.2L238.7 123.2L242.1 131.2L249.2 127.2L260.2 119.1L263.6 131.2L267.2 135.2L275.2 129.2L285.2 124.2L297.3 116.1L307.3 111.1L317.3 105.1L323.3 118.1L327.3 124.2L337.4 118.1L345.4 113.1L355.4 108.1L359.4 113.1L362.4 115.1L371.4 111.1L381.5 107.1L389.5 103.1L395.5 103.1L403.5 99.1L411.5 96.1L417.6 103.1L425.6 112.1L435 114.1L436 114.3L442 106.2L450 101.2L460.1 98.2L470.1 94.2L480.1 90.2L490.1 87.2L504.2 84.6L518.2 82.2L521.2 85.2L526.2 86.2L534.3 84.2L538.3 85.2L550.3 81.2L566.3 77.2L570.3 92.2L574.3 94.2L586.4 89.2L590.4 91.2L596.4 92.2L606.4 89.2L616.4 87.2L624.5 86.2L627.5 102.2L634.5 104.2L638.5 108.2L646.5 104.2L656.5 106.2L660.6 104.2L665.6 120.3L670.6 122.3L680 119.3L690 115.2L706.1 110.2L719.1 102.2L721.7 107.2L740.2 96.2L760.2 88.1L780.3 81.7L792.3 78.1L795.3 85.1L802.3 88.1L810.3 84.1L822.4 82.5L836 79.1L838.8 99.2L850.4 94.2L867.5 84.1L872.5 90.1L885.5 93.2L888.5 107.2L900.6 116.2L915.6 107.2L920 112.2L932.1 111.1L935.1 108.1L938.1 136.2L944.1 132.2L952.1 125.2L958.1 128.2L963.1 129.2L970.1 121.2L974.2 121.2L979.2 129.2L990.2 121.2L998.2 119.2L1010.2 114.2L1014.3 119.2L1019.3 123.2L1030.3 116.2L1042.3 106.1L1046.3 127.2L1050.3 130.2L1056.4 127.2L1062.4 131.2L1067.4 129.2L1070.4 139.2L1078.4 134.2L1090.4 127.2L1098.5 123.2L1110.5 117.2L1114.5 118.2L1117.5 123.2L1130.5 118.2L1135.5 116.2L1138.5 121.2L1150.6 116.2L1160 110.1L1170.5 102.5L1183.3 93.7L1207.4 84.1L1208.5 83.7" stroke="#3CB371" stroke-width="2.95"/>
<path class="s" d="M67.6 95.8L72 93.2L78 94.6L86.1 84.2L96.1 77.7L100.1 80.1L106.1 77.7L112.1 80.1L120.1 82.1L130.2 84.2L138.2 87.8L146.2 84.6L154.2 82.1L161.2 77.7L164.3 82.6L169.3 79.7L173.3 80.1L174.7 94.6L180.3 97.2L184.9 95.8L192 92.1L196 105.1L200 118.1L204 120.1L209.1 117.1L215.1 109.1L221.1 102.1L224.1 106.1L231.1 101.1L238.1 97.7L243.1 103.1L251.2 97.1L260.2 92.1L264.2 102.1L269.2 105.1L275.2 101.1L285.2 97.7L293.3 95.1L301.3 97.1L309.3 93.1L317.3 85.7L321.3 95.1L325.3 107.1L331.4 108.1L337.4 105.1L345.4 101.1L355.4 98.1L359.4 107.1L365.4 108.1L375.5 103.1L385.5 100.1L395.5 98.1L403.5 95.1L411.5 95.1L417.6 105.1L425.6 115.1L435 120.1L436 119.3L442 106.2L450 98.2L460.1 93.2L470.1 84.2L478.1 76.2L484.1 75.2L490.1 72.1L498.2 68.1L506.2 69.1L514.2 70.1L520.2 71.1L526.2 74.2L532.2 70.1L538.3 69.1L544.3 66.1L550.3 61.1L556.3 59.1L562.3 57.1L566.3 55.1L570.3 68.1L574.3 67.1L580.4 64.1L586.4 63.1L590.4 68.1L596.4 72.1L602.4 68.1L608.4 64.1L614.4 61.1L618.5 63.1L622.5 67.1L627.5 74.2L632.5 80.2L638.5 84.2L646.5 80.2L650.5 88.2L656.5 85.2L662.6 86.2L668.6 94.2L674.6 101.2L680 100.2L682 94.2L690 88.1L696.1 82.1L698.1 89.1L706.1 86.1L719.1 83.1L721.7 94.2L730.1 90.1L740.2 85.1L746.2 82.1L754.2 83.1L762.2 78.1L770.2 73.1L776.3 71.1L782.3 69.1L790.3 66.1L795.3 73.1L802.3 79.1L810.3 83.1L820.4 81.1L830.4 80.1L836 81.1L838.4 96.2L842.4 97.2L850.4 92.1L860.5 86.1L867.5 83.1L870.5 88.1L876.5 92.1L885.5 93.2L888.5 109.2L894.5 114.2L900.6 121.2L906.6 118.2L914.6 111.2L920 118.2L924 127.2L932.1 120.2L935.1 116.2L938.1 142.2L944.1 138.2L952.1 130.2L958.1 134.2L963.1 138.2L970.1 129.2L974.2 130.2L979.2 141.2L986.2 134.2L994.2 131.2L998.2 127.2L1004.2 124.2L1010.2 119.2L1014.3 125.2L1019.3 133.2L1026.3 129.2L1034.3 124.2L1042.3 118.2L1046.3 130.2L1050.3 137.2L1056.4 134.2L1062.4 138.2L1067.4 133.2L1070.4 144.2L1078.4 144.2L1086.4 140.2L1090.4 134.2L1096.4 130.2L1102.5 134.2L1108.5 130.2L1114.5 126.2L1117.5 134.2L1122.5 131.2L1128.5 137.2L1134.5 134.2L1140.6 138.2L1146.6 136.2L1152.6 133.2L1160 127.2L1170.5 114.5L1173.7 116.1L1183.3 101.7L1191.3 97.7L1207.4 90.5L1208.5 90.2" stroke="#00FFFF" stroke-width="2.95"/>
<path class="s" d="M67.6 97.2L80 88.2L90.1 84.6L110.1 84.6L130.2 88.2L150.2 93.2L172.3 90.2L184.9 89.2L211.1 87.1L243.1 75L274.2 85.7L305.7 74.4L337.4 109.1L399.1 84.1L427.6 107.1L435 105.1L464.1 75.2L493.2 62.1L524.2 69.1L555.9 47.1L587.4 90.2L618.5 67.7L649.5 114.3L680 91.2L690 84.1L712.1 74.5L744.2 73.1L774.3 61.1L808.3 86.1L837.4 134.3L868.5 84.1L899.6 117.2L920 114.2L932.1 112.1L962.1 144.2L993.2 125.2L1056.4 160.3L1088.4 151.2L1118.5 159.9L1160 117.2L1207.4 81.7L1208.5 80.5" stroke="#000080" stroke-width="2.95"/>
<path class="s" d="M67.6 92.2L98.1 84.6L100.1 102.2L162.6 86.2L163.8 120.2L172.7 115.8L174.3 142.3L184.9 133.3L197 127.2L215.1 118.1L235.1 107.1L260.2 97.7L264.8 102.5L285.2 95.1L305.7 91.1L307.7 103.1L325.3 101.7L356.4 92.1L359.4 103.1L385.5 96.1L405.5 91.1L421.6 92.1L424.6 109.7L435 107.1L450 101.2L470.1 94.2L490.1 88.6L518.2 83.8L521.2 88.6L536.3 87.2L538.3 91.8L564.3 85.2L568.3 108.2L590.4 100.2L610.4 93.2L623.5 89.8L626.5 141.3L640.5 128.3L660.6 114.3L680 106.2L690 99.2L719.1 88.1L721.1 117.2L740.2 105.2L760.2 97.2L792.3 88.1L795.3 97.2L810.3 94.2L835.4 87.1L838 118.2L850.4 109.2L870.5 99.2L885.5 94.6L887.5 105.2L900.6 100.2L920 93.8L936.1 90.1L938.1 145.2L950.1 130.2L970.1 115.2L990.2 105.1L1014.3 98.1L1016.3 100.1L1042.3 91.1L1045.3 111.1L1068.4 104.1L1070 123.2L1090.4 112.1L1114.5 101.7L1116.5 104.1L1130.5 97.1L1160 89.1L1183.3 84.1L1207.4 80.9L1208.5 80.7" stroke="#DC143C" stroke-width="2.95"/>
</g>
<rect x="67.3" y="7.7" width="1141.1" height="236.2" fill="none" stroke="#000" stroke-width="2.05"/>
<path d="M67.3 243.8v4.9M192.4 243.8v4.9M320.5 243.8v4.9M447.7 243.8v4.9M572.7 243.8v4.9M700.9 243.8v4.9M828 243.8v4.9M953.1 243.8v4.9M1081.3 243.8v4.9M1208.4 243.8v4.9M67.3 243.8h-4.9M67.3 184.8h-4.9M67.3 125.7h-4.9M67.3 66.7h-4.9M67.3 7.7h-4.9" stroke="#000" stroke-width="2.0" fill="none"/>
<text class="tk" x="58.5" y="251.1" text-anchor="end">40</text>
<text class="tk" x="58.5" y="192.1" text-anchor="end">50</text>
<text class="tk" x="58.5" y="133" text-anchor="end">60</text>
<text class="tk" x="58.5" y="74" text-anchor="end">70</text>
<text class="tk" x="58.5" y="14.9" text-anchor="end">80</text>
</g>
<g id="panel-b">
<path d="M192.4 260.1V496.2M320.5 260.1V496.2M447.7 260.1V496.2M572.7 260.1V496.2M700.9 260.1V496.2M828 260.1V496.2M953.1 260.1V496.2M1081.3 260.1V496.2M67.3 437.2H1208.4M67.3 378.2H1208.4M67.3 319.2H1208.4" stroke="#b0b0b0" stroke-opacity="0.44" stroke-width="1.3" stroke-dasharray="1.8 1.75" fill="none"/>
<clipPath id="cp-b"><rect x="67.3" y="260.1" width="1141.1" height="236.1"/></clipPath>
<g clip-path="url(#cp-b)">
<path class="s x" d="M67.7 336.3L69.1 328.6L70.4 324.2L72 324.5L73.4 324.6L74.8 331L76 339.5L77.6 375.2L78.4 373L79.6 361.9L80.7 350.3L82.5 370.7L83.9 361.5L85.7 333L87.1 324.5L88.5 318.3L89.9 317.8L91.3 309.8L92.4 309.2L93.3 309.1L94.8 294.1L95.9 289.6L97.6 305.3L99.3 323.4L100.7 325.6L101.8 326.6L103.4 320.5L104.8 308.3L106.1 304.5L108.1 318.6L109.4 320.2L110.3 361.2L111.3 356.4L112.9 336.3L114.3 329.6L115.7 328.3L117.1 325.4L118.4 322.5L120.1 330L121.7 341.1L123 352.2L124.2 360.3L125.8 360.6L127.4 358.7L128.8 334.3L129.9 328.8L131.8 359.7L132.8 358.4L134.2 350.5L135.6 341.8L137 336.3L138.6 326.4L140.2 325L141.8 315.6L143.2 312.8L144.6 320L145.8 328.2L147.1 340.3L148.5 348.9L150.1 356.2L151.4 355.8L153 349.1L154.4 336L155.8 326.2L157.2 311.4L158.5 306.5L160 316.2L161.4 327.4L162.7 328.6L164.3 326.6L165.6 320.8L167 317.9L168.1 317.7L169.7 324.3L171 338.2L172.3 344.3L173.6 345.5L174.9 348.3L176 348.4L177.9 336.3L179.2 331.2L180.6 328.8L181.9 325L183.3 321.9L184.8 320.2L186.1 309.7L187.2 306.8L188.6 318.2L189.8 334.2L191.4 357.7L193 380.3L194.8 399.4L196.9 410.8L198.3 409L200 402.3L201.7 395L203.4 384.5L205 372.2L206.6 354.8L208.1 331.1L210.5 309.5L211.6 310.2L213.1 310.1L215.1 318.1L217.5 333L219.1 332.1L221.3 309.6L222.3 311.9L223.5 324.1L224.8 337.5L225.8 340L228.5 312.6L229.5 312.4L230.4 312.8L232.4 327.2L234.1 338.2L235.6 351.6L237.1 364.2L238.3 381.6L239.5 396.3L240.7 397.7L242.6 382.4L244.1 368.2L245.6 354.3L247.1 336.2L248.7 320.6L250.3 311.5L252.2 320.1L254.2 332.1L255.7 350.8L257.2 372.2L258.7 374.5L260.2 382.3L261.5 397.6L262.7 402.3L264 396.4L265.2 378.3L266.5 370.3L267.9 369.5L269.2 362.2L270.7 361.1L272.2 359L273.7 359.4L275.2 360.2L276.6 368.6L277.9 376L278.9 377.3L280.6 362.6L281.9 351.6L283.5 336.5L284.7 336.3L286.2 342.2L287.7 356.6L289.2 362.4L290.6 356.5L291.9 349.3L293.1 344.9L294.8 363.3L296.3 384.3L298.5 400.8L299.8 397.3L301.3 388.3L303 384.9L305.3 396.3L306.5 414L307.5 417.8L309 405.6L310.3 388.3L311.7 387L313.4 388.5L314.8 387.4L316.3 384.3L318 381.6L320 393.3L321.9 408.5L323 405.4L324 403.8L326.2 411.8L328.3 392.3L329.8 375.7L331.4 360.2L332.6 346.9L333.8 339.5L335.1 345L336.7 358.9L338.1 357.9L339 357.5L340.9 342L342.9 323L344.4 324.1L345.9 330L347.5 335.7L348.6 334.1L350.2 325.8L351.8 327.1L353.1 342.2L354.4 352.2L356.1 382.5L357.9 401.3L359.1 393L360.4 372.2L361.9 352.3L363.4 332.1L364.9 328.1L366.4 322.1L368 321.3L370.8 334.8L372.4 332.1L374.4 326.1L376 330.8L377.3 333.9L378.7 327.5L379.9 316.1L381.2 306.9L382.2 303.5L384.5 330.1L386.5 332.1L388.5 368.2L389.8 388.7L391 383.6L392.5 362.2L394 350.2L395.5 338.2L397 330.7L398.5 324.1L400 319.5L401.5 312.1L403 307.4L404.1 307.1L407 356.4L408 354.9L409.5 352.2L411 350.2L412.5 345.9L414 350.3L415.6 358.2L416.9 363.2L418.2 364.4L419.6 372.2L420.9 373.7L422.2 376.8L423.3 377.3L425.2 372.3L426.1 371.9L427.7 369.4L428.9 369.6L430.1 369.3L431.6 372.2L433.3 374.1L434.7 373.9L437 356.3L438.5 344.1L440 332.3L441.4 329.1L442.7 322.6L443.7 321.5L445.5 332.1L447.2 339.2L448.5 336.8L450 328.3L451.9 317.7L453.5 315.1L454.9 317.9L456.4 326.4L457.6 325.4L459 322.8L460.6 327.2L461.9 327.6L463.6 323.7L465.1 322.2L466.6 310.9L468.3 302.9L469.6 304.8L471.1 308.2L473.1 310.9L474.6 308.6L475.9 308L478 311.5L479.3 308.3L480.3 307L481.8 315L483.4 325.2L484.6 323.4L486.1 320.2L487.7 319.2L489.3 315.8L490.9 314.6L492.4 315.1L494.2 312.2L495.5 303.8L496.8 302L498.2 296.2L499.8 293L501.5 285.6L503.2 282.1L504.7 277.4L505.6 277L507.1 275.1L508.7 280.5L510.2 286.1L512.5 276.9L513.7 277.1L515.2 282.1L516.7 288.8L518.5 295.6L519.7 295.4L521 294.1L522.7 300.7L524.2 307.1L525.7 298.6L527.2 285.2L528.7 284.6L530.2 286.2L531.7 299.3L533.2 308.2L534.8 309.8L536.2 311.3L537.8 309.5L539.3 302.2L540.6 287L541.9 281.3L543.1 285.1L544.3 296.2L545.8 299.1L547 299.5L548.8 294.6L550.3 284.2L552.1 282.3L553.8 285.3L555.1 287.5L556.8 281.9L558.2 279.4L559.8 283.2L561.3 294.2L562.8 298.4L564.3 302.2L565.7 302.2L567 308.2L568.3 308.2L569.9 313.1L570.8 313.5L572.3 318.2L573.7 318.8L575 324.2L576.4 324.2L577.9 327.7L579.5 330.9L580.7 331.1L582.5 333.8L583.9 333.9L585.6 336.1L587.4 340.1L588.7 339.9L590.3 340.9L592 337.3L593.6 333.7L595.2 329.8L596.8 325.7L598.4 322.2L599.9 316.4L601.4 305.2L602.8 304.6L604.4 307.2L606.5 340.4L607.9 324.1L609.8 292.5L611.1 292.5L613.8 318.4L614.9 316.6L616.1 312.9L618 337.2L619.7 355L621 349.4L622.9 329.4L624 329.8L625.5 331.5L627 330.1L628.5 322.2L630 318L631.1 315.1L633.5 362.3L635.6 380.2L637 372.6L638.5 358.3L640 336.8L641.5 312.2L642.8 304.9L644.2 298.7L645.3 302.7L646.5 310.2L648.9 397.4L650 389.5L651.5 362.3L653 351L654.8 342.8L656 342.8L657.5 343.6L659 344L660.6 348.3L662.1 351.4L663.6 352L665.1 357.8L666.6 358.3L667.6 357.8L669.5 362.7L670.2 363.3L672.6 390.4L673.9 395L675.3 399.8L676.2 399.8L678.6 342.3L680 338.3L681 337.1L682.5 341.3L684 342.2L685.5 341.8L687 336.2L688.5 336.2L689.7 336L691.7 341.6L693.3 325.1L694.6 315.5L695.8 321.8L697.1 334.2L698.6 335.1L700.1 340.2L701.6 342L703.3 345.7L704.6 345.3L705.7 344.3L707.6 358.4L709.1 374.3L710.4 374.4L711.9 377.4L713.1 376.3L715.1 342.2L717.3 326.6L718.6 330.9L720.1 340.2L721.2 358.2L723 313.3L723.8 315.7L725.4 324.2L726.6 321.6L727.8 320.3L730.4 329.1L731.6 327L733.4 319.2L734.7 320.5L736.2 324.2L737.7 335L739.2 342.2L740.7 346.3L742.3 350.5L743.7 349.5L744.8 349.8L746.2 348.3L747.5 336.3L748.9 318.1L750.2 312.4L751.7 319.1L753.2 328.2L754.5 346.4L755.7 351.4L757.5 337.7L759.2 312.2L760.7 309.7L762.3 305.4L763.7 307.5L765.3 314.3L766.5 311.5L767.8 307.3L769 311L770.2 312.7L771.9 311.2L773.1 311.2L774.8 307.7L776.2 306.8L777.8 308.7L779.3 314.2L780.9 318L782.5 320.9L784.1 324.8L785.7 330.4L787.3 332.2L788.8 348.5L790 342.6L791 339.6L793.3 376.3L794.6 388.5L796.1 400.7L797.1 398L798.3 394.4L799.9 394.1L801.3 397.5L802.8 389L804.3 378.3L806.5 357.9L808.5 360.4L810.6 354.9L811.8 355L813.6 359.9L814.8 358.8L816.4 353.5L817.9 355.4L818.8 355.8L820.4 361.3L821.7 361.6L823 360.8L824.3 361.7L825.7 360.1L827 359.3L828.4 359.3L829.9 356.7L831.2 354.7L832.9 359.8L834.4 366.3L835.9 388L837.5 401.8L838.9 394.9L840.4 382.3L841.9 364.2L843.4 348.3L845.7 337L846.9 338.8L848.7 346.4L849.8 345.3L851.1 343L852.4 338.2L853.8 334.9L855.2 330.3L856.6 328.4L858.1 327L859.1 326.5L860.8 340.9L862.1 357.1L863.5 364.1L865 358.5L866.6 352L867.8 354.9L869.1 358.4L870.5 362.3L872 369.9L873.4 373.9L875 367.5L876.7 360.6L878 362.3L879.5 364.8L881 362.6L882.3 359.8L884 366.8L885.5 378.3L887 403.1L888.6 414.8L890 405.6L891.5 386.4L893 367.2L894.9 353.9L895.9 355.2L897.2 359.9L898.4 361.1L900.1 358.8L901.2 359.1L902.4 358.8L903.9 361.1L905.2 367.4L906.4 367.7L907.9 364.4L909.2 354.1L910.6 351.1L912.2 355.5L913.9 359.5L915.6 362.3L917.1 365.4L918.5 371.4L920 374.2L922.2 371.1L923.5 371.9L924.9 374.8L926.3 369.3L927.2 366.1L929 397.6L929.8 394.4L931.4 380.4L932.4 380.3L933.2 380.8L934.3 414.4L935.9 456.6L937.6 475.7L939.2 455.8L940.9 414.4L942.5 409.9L944.1 402.3L945.6 390.7L947.1 378.3L949.4 365.5L951.1 368.3L952.6 382.8L954.1 402.3L955.6 408.9L957.1 414.4L958.4 420.2L960.1 431.2L961.7 430.4L962.9 412.1L964.4 403.1L965.6 406.1L967.1 410.4L968.6 415.5L970.3 423.1L971.6 420.8L972.8 420.8L974.7 433.4L976.2 442.9L977.7 435.3L979.2 414.4L980.7 401.3L982.2 392.3L983.7 371.2L985.4 361.1L986.7 364.4L988.2 368.3L989.7 375.9L991.2 388.3L993.4 424.1L994.5 419.1L995.8 409.9L997.1 420L998.6 432.7L999.8 429.1L1001.5 417.5L1002.9 418.7L1004.2 418.4L1005.7 406.9L1007.6 396.2L1008.9 396.8L1010 396.9L1011.7 402.4L1013.2 414.4L1015.3 422.4L1016.8 426.6L1018 426.9L1020.3 420.4L1021.8 404.4L1023.3 388.3L1025.7 362.6L1026.8 363.6L1028.1 363.8L1029.8 358.7L1031 358.7L1033 362.9L1035.3 356.8L1037.3 368.3L1038.8 378.9L1040.3 386.3L1042.3 414.4L1043.5 429.2L1044.8 434.5L1046 431.6L1047.3 430.4L1049.1 422.7L1051.3 429.7L1052.8 420.3L1054.7 405.3L1055.9 406.8L1057.4 410.4L1059.4 424.4L1061.3 430.6L1062.9 426.5L1064.6 418.1L1065.9 420.7L1067.4 430.4L1068.6 442.9L1069.7 448.8L1071.1 435.3L1072.4 414.4L1073.9 413.1L1075.1 412.1L1076.9 420L1078.6 424.6L1079.9 424.8L1082.5 441.2L1083.9 432.7L1085.8 417.8L1086.9 419.5L1088.2 422.4L1089.9 413.7L1091.8 404.3L1092.9 405.4L1094.4 410.4L1095.9 414.8L1097.2 417L1099 406.7L1100.8 399.6L1102 400.3L1103.5 402.3L1105 412.4L1106.1 413.8L1108 400.8L1109.8 389.8L1111 391.9L1112.2 392.9L1114 386.1L1115.4 384.1L1117 387.5L1118.5 390.3L1120 398L1121.3 399.7L1123 391.4L1124.5 378.3L1126 373.4L1127.5 368.3L1129 360.1L1130.3 357.2L1132 370.2L1133.5 386.3L1135 401.4L1136.4 405.4L1138 394.6L1139.9 382.7L1141.1 382.7L1142.6 388.3L1144.1 394.9L1145.2 396.2L1147.1 386L1148.6 368.3L1150.1 364.4L1151.7 361.1L1153.1 361.9L1154.6 364.2L1156.1 367.7L1157.3 367.8L1158.8 362.2L1159.9 361.3L1161.2 364L1162.6 368.3L1163.7 366.7L1164.9 366.6L1166.1 364L1167.3 362L1168.5 364.2L1169.7 370.6L1171.4 397.3L1172.9 395.5L1174.8 366.6L1176 353.7L1177.2 344.2L1178.8 332L1180.4 325.4L1182.5 340.2L1183.7 340.3L1184.9 337.6L1186.5 338.3L1188.1 326.9L1189.4 320.3L1191 328.1L1192.3 328.7L1194.4 323.3L1196.9 333.4L1198.6 331.3L1200.2 328.1L1202.2 319.1L1203.9 326.5L1205.4 336.9L1206.7 315.3L1208 294.2L1208.5 296.1" stroke="#000000" stroke-width="3.6"/>
<path class="s x" d="M67.7 333.3L69.1 328.5L70.4 325.7L72 325.4L73.6 326.2L74.8 335.2L76 344.2L77.6 367.2L78.4 365.5L79.6 363.9L80.7 354.7L82.4 362.8L83.9 354.8L85.7 338.5L87.1 327.4L88.5 319.4L89.9 316.9L91.3 311.2L92.5 308.4L93.7 306.2L94.8 296.7L95.8 294.5L97.6 305.6L99.3 318.6L100.7 323.4L101.8 324.1L103.4 318.6L104.8 311.2L106 308.6L108.1 321.1L109.4 326.3L110.2 353.5L111.3 350.6L112.9 340.2L114.3 332.1L115.7 328L117.1 325.8L118.3 324.6L120.1 331.5L121.7 340.8L123 350.7L124.4 357.3L125.8 357.3L127.4 352.9L128.8 339.8L129.9 335.9L131.8 353.4L132.8 352.8L134.2 350.3L135.6 342.2L137 336.1L138.6 327.6L140.2 323.8L141.8 317.2L143.2 315.6L144.6 321.2L145.8 328.7L147.1 339.7L148.5 347.6L150.1 353.4L151.4 352.9L153 347.2L154.4 335.9L155.8 325.4L157.2 314.3L158.6 310.6L160 316.5L161.4 324L162.9 326.5L164.3 325.6L165.6 321.5L167 319.4L168.4 320L169.7 326.1L171 336.2L172.3 342.4L173.6 345.3L174.9 346.7L176.3 345.9L177.9 337.4L179.2 332.5L180.6 328.7L181.9 325.2L183.3 321.5L184.8 318.1L186.1 311.7L187.1 310.4L188.6 320.9L189.8 336L191.4 357.8L193 378.8L194.8 396L196.9 407.1L198.3 406.7L200 401.7L201.7 394L203.4 383.3L205 370.1L206.6 352.7L208.1 333L210.1 314.7L211.6 312.6L213.1 312.8L215.1 319.4L217.3 327.1L219.1 326.7L221.3 314.7L222.3 316.5L223.5 324.4L224.8 332.3L225.8 334.1L228.4 316.9L229.3 316.8L230.4 316.4L232.4 327.7L234.1 338.3L235.6 352.1L237.1 365.2L238.3 380.4L239.5 391.2L240.8 392.3L242.6 381.5L244.1 368.3L245.6 353.4L247.1 336.4L248.7 323.5L250.3 316.5L252.2 322.6L254.2 333.8L255.7 350.4L257.2 367.8L258.7 374.9L260.2 384.4L261.5 395L262.7 398.1L264 393.6L265.2 381.1L266.5 372.6L267.9 368.9L269.2 363.2L270.7 361.6L272.2 359.6L273.7 360.4L275.2 362.2L276.6 368.7L277.9 373.1L278.9 373.6L280.6 362.1L281.9 352.4L283.2 340.5L284.6 340.3L286.2 344.7L287.7 354.5L289.2 359L290.6 355.1L291.9 351.7L293 349.6L294.8 365.4L296.3 381.2L298.6 396.1L299.8 394.7L301.3 390.8L303 389.1L305.3 398.4L306.5 409.7L307.6 412.6L309 404.8L310.3 393.1L311.8 388.4L313.3 388.3L314.8 386.4L316.3 385.3L318 384.8L320 394.1L322 406.5L323 406.3L324.2 405L326.1 408L328.3 391.4L329.8 377.5L331.4 360.8L332.6 349.2L333.9 343.5L335.1 346.7L336.7 356.1L337.9 355.3L339.4 353.7L340.9 341.4L342.4 327.4L344.4 327.3L345.9 329.7L347.5 333.5L348.6 332.6L350 329.3L351.8 331.1L353.1 343.7L354.4 357.4L356.1 380L357.9 393.5L359.1 388.5L360.4 372.5L361.9 353.8L363.4 336.3L364.9 329.4L366.4 324.8L368.2 324.3L370.7 331.9L372.4 330.6L374.4 327.9L376 330.5L377.2 331.7L378.7 325.9L379.9 316.5L381.2 310.7L382.2 308.7L384.5 328.6L386.5 338L388.5 365.7L389.8 381.3L391 378.7L392.5 364.2L394 351.5L395.5 339.5L397 331.5L398.5 324.5L400 319.2L401.7 313.3L403 313.6L404.5 316L406.5 349.4L408 350.3L409.5 351.6L411 350.1L412.5 347.7L414 351.5L415.6 357.1L416.9 362.5L418.2 365.3L419.6 371.3L420.9 373.4L422.2 375.8L423.4 376.1L424.9 372.6L426.2 372.3L427.7 369.7L428.9 370.3L430.1 369.7L431.6 372.1L433.3 371.8L435 369.7L437 356.3L438.5 345.5L440 334.3L441.4 329.2L442.7 324.6L443.8 324.3L445.5 331.4L447.2 336L448.5 334.4L450 328L451.9 320L453.6 317.6L454.9 319.1L456.3 324.7L457.6 324.7L459 323.5L460.6 326.2L462.1 326.5L463.6 323.1L465.1 319.9L466.6 311.6L468.3 305.2L469.6 305.9L471.1 307.6L473.2 310L474.6 309.2L476.1 308.5L478.1 310.8L479.3 309L480.3 309L481.8 315.4L483.4 322.9L484.6 322.4L486.1 320.8L487.7 319L489.3 316.4L490.9 315L492.6 314.1L494.2 311.1L495.5 304.8L496.8 301.7L498.2 296.2L499.8 292.5L501.5 286.1L503.2 282.6L504.5 277.9L505.8 277.6L507.1 276.6L508.7 280.1L510.2 283.9L512.4 279.3L513.7 279.9L515.2 283L516.7 288.4L518.2 293.8L519.7 295.1L521.2 295.6L522.7 300.5L524.1 303.8L525.7 297.7L527.2 289L528.7 287.8L530.2 289.1L531.7 298.6L533.2 305.9L534.8 308.9L536.1 309.8L537.8 307.1L539.3 300L540.6 289.3L542 284.6L543.1 286.7L544.3 294L545.8 297.3L547.3 297.8L548.8 293.4L550.3 286.4L552.3 284.2L553.8 285L555.2 286.1L556.8 282.6L558.2 281.6L559.8 284.9L561.3 292.8L562.8 297.3L564.3 301.7L565.7 302.9L567 307.6L568.3 308.6L569.7 313.1L571 313.5L572.3 317.9L573.7 319.2L575 323.5L576.4 324.7L577.9 327.6L579.4 330.5L580.9 331.1L582.4 333.8L584 334.2L585.6 336.5L587.2 339.8L588.8 339.2L590.3 340.1L592 336.9L593.6 333.7L595.2 329.7L596.8 325.6L598.4 321.2L599.9 315.6L601.6 309.4L602.9 310.8L604.4 313.2L606.4 331.6L607.9 320.3L609.4 304.1L611.1 302L613.4 314.8L614.9 315.7L616.4 316L618 336L619.7 348.5L621 346L622.5 333.9L624 331.7L625.5 330.6L627 328.5L628.7 322.5L630 322.6L631.5 322.6L633.5 356.9L635.7 371.9L637 368.8L638.5 356.4L640 336.9L641.5 316.2L642.8 307.2L643.9 303.5L645.3 313L646.5 324.7L648.9 382.4L650 378.9L651.5 366.8L653 353.9L654.5 345L656 343.7L657.5 343.8L659 344.9L660.6 348.1L662.1 351.1L663.6 352.7L665.1 356.7L666.6 358L667.9 358.1L669.2 364.8L670.6 367.4L672.6 386.7L673.9 392.6L675.1 392.9L676.6 389.1L678.6 351.7L680 344.2L681.3 339.1L682.5 340.6L684 340.9L685.5 340.8L687.2 337.6L688.5 337.9L689.9 336.8L691.7 338.5L693.3 326.3L694.6 319.7L695.8 323L697.1 331.2L698.6 334.9L700.1 339.9L701.6 341.9L703.1 344.9L704.6 346L706.1 347.2L707.6 358.7L709.1 370.4L710.4 373.5L711.5 373.8L713.1 368.2L715.1 345.6L717.2 334.2L718.6 338L720.1 339.8L721.2 351.3L722.9 322.7L724 323.6L725.1 323.5L726.6 322.3L727.9 322L730.3 326.8L731.6 325.2L733.3 321.3L734.7 322.5L736.2 325.8L737.7 334.4L739.2 341.2L740.7 345.7L742.3 349.6L743.5 349.1L744.8 348.6L746.2 344.7L747.5 334.2L748.9 321.5L750.2 316.6L751.7 321.1L753.2 329.8L754.5 342.7L755.7 345.5L757.5 335.6L759.2 317.7L760.7 311.7L762.4 307.4L763.7 308.6L765.3 312.5L766.5 310.9L767.8 308.5L769 310.6L770.3 311.8L771.7 310.6L773.2 311.2L774.8 308.3L776.3 307.8L777.8 309.7L779.3 313.9L780.9 317.7L782.5 321.2L784.1 325L785.7 331.8L787.3 334.8L788.9 347.1L790 345.2L791 345.2L793.3 373.1L794.6 384.8L796.2 398.2L797.1 397.2L798.3 396.6L800.1 395.4L801.2 395.9L802.8 386.1L804.3 377.8L806.7 360.3L808.3 361.2L810.6 356.3L811.8 356.9L813.4 358.5L814.8 357.7L816.4 354.4L817.7 356.3L818.8 356.2L820.4 360.2L821.7 361L823 361L824.4 361.6L825.7 360.2L827 359.4L828.4 358.5L829.9 357.1L831.2 356.2L832.9 362L834.4 370.5L835.9 386.2L837.6 396.2L838.9 391.9L840.4 381.4L841.9 364.5L843.4 350.6L845.7 340.4L846.9 340.7L848.6 344.7L849.8 344.1L851.1 342.5L852.4 338.3L853.8 334.9L855.2 331L856.6 328.7L858.1 328.5L859.5 329.9L860.8 342.3L862.1 354.1L863.7 360.7L865 358.2L866.6 354.1L867.8 355.6L869.1 358.6L870.5 363.4L872 368.7L873.4 371.3L875 367.4L876.7 362.5L878 362.8L879.5 364L881 362.7L882.2 361.8L884 369.8L885.5 381.8L887 399.9L888.6 408.2L890 402L891.5 386.7L893 369.9L894.5 357L895.9 357L897.2 358.7L898.6 360.1L899.9 358.8L901.2 359.4L902.6 359.4L903.9 361.9L905.2 365.8L906.6 366L907.9 362.7L909.2 355.9L910.6 353.3L912.2 355.7L913.9 358.9L915.6 362.5L917.1 366.1L918.5 370.4L920.1 373.2L922 371.8L923.5 372.5L925 373.7L926.3 372.7L927.3 371.1L929 391.5L929.8 389.6L931.3 384.1L932.4 385L933.7 389.5L934.3 419.3L935.9 449.3L937.6 463.4L939.2 451.6L940.9 423.9L942.5 412L944.1 400.9L945.6 389.8L947.1 379.2L949.3 370.6L951.1 373L952.6 383.7L954.1 399.2L955.6 407.5L957.1 414.9L958.4 420.7L960 426.5L961.7 425.1L962.9 413.8L964.4 405.9L965.6 407.2L967.1 410.8L968.6 415.6L970.4 422.3L971.5 422.3L973.2 424.9L974.7 432.9L976.1 438L977.7 431.7L979.2 416.4L980.7 402L982.2 390L983.7 373.9L985.5 364.4L986.7 365.7L988.2 369.3L989.7 380.6L991.2 392.4L993.5 417.7L994.5 416L995.7 413L997.1 420.5L998.7 428.6L999.8 427L1001.2 418.7L1002.7 418.5L1004.2 414.9L1005.7 407L1007.2 398.1L1008.7 398.2L1010.2 398.4L1011.7 404.3L1013.2 413.5L1015.3 420.7L1016.8 424.6L1018.3 424.2L1020.3 417.3L1021.8 402.5L1023.3 387.9L1025.3 367.4L1026.8 365.2L1028.3 362.8L1029.8 360.5L1031.1 359.6L1033.2 362.3L1035.2 359.4L1037.3 369L1038.8 379L1040.3 390.4L1042.3 412.1L1043.5 425L1044.9 431.9L1046 430.3L1047.1 430.3L1049.3 424.2L1051.2 427L1052.8 418.7L1054.6 409.1L1055.9 409.5L1057.4 412.7L1059.4 422.6L1061.4 427.4L1062.9 425.4L1064.5 421.2L1065.9 423.5L1067.4 431.8L1068.6 440.6L1069.6 444L1071.1 434.3L1072.4 419.8L1073.9 415.6L1075.2 414.4L1076.9 419.3L1078.4 426.4L1080.4 426.2L1082.4 436.8L1083.9 430.7L1085.4 421L1086.9 420.4L1088.2 420.8L1089.9 413.6L1091.7 407L1092.9 407.2L1094.4 410.5L1095.9 413.4L1097.2 414.4L1099 407.3L1100.7 401.9L1102 402L1103.5 404L1105 409.7L1106.2 410L1108 401.1L1109.7 391.9L1111 391.9L1112.5 391.6L1114 387.2L1115.4 385.8L1117 388.1L1118.5 391.1L1120 396.1L1121.3 396.8L1123 390.2L1124.5 380.3L1126 373.8L1127.5 367.4L1129 362.2L1130.2 360.9L1132 371.9L1133.5 385.4L1135 397.5L1136.4 400.9L1138 394.5L1139.6 386.6L1140.9 385.9L1142.6 388.8L1144.1 392.7L1145.3 392.9L1147.1 384.3L1148.6 371.5L1150.1 366.1L1151.7 362.3L1153.1 362.7L1154.6 364.3L1156.1 366.4L1157.6 366.6L1158.8 363.2L1159.9 362.8L1161.2 364.3L1162.6 367.4L1163.7 366.6L1164.9 366.2L1166.1 364.1L1167.1 363.4L1168.5 367.7L1169.7 374L1171.3 389L1172.9 387.3L1174.8 369.1L1176 355.8L1177.2 343.5L1178.8 334.5L1180.5 329.1L1182.5 336.9L1183.6 337.5L1185 336.4L1186.5 336.8L1188.1 327.9L1189.5 322.6L1191 325.8L1192.5 326.7L1194.4 324.4L1196.7 330.8L1198.6 328.5L1200.2 327.6L1202.2 322.8L1203.9 326.7L1205.4 331.2L1206.7 315.2L1207.9 297.6L1208.5 297.4" stroke="#006400" stroke-width="2.95"/>
<path class="s x" d="M67.7 333.3L69.1 328.5L70.4 325.7L72 325.4L73.6 326.2L74.8 335.2L76 344.2L77.6 367.2L78.4 365.5L79.6 363.9L80.7 354.7L82.4 362.8L83.9 354.8L85.7 338.5L87.1 327.4L88.5 319.4L89.9 316.9L91.3 311.2L92.5 308.4L93.7 306.2L94.8 296.7L95.8 294.5L97.6 305.6L99.3 318.6L100.7 323.4L101.8 324.1L103.4 318.6L104.8 311.2L106 308.6L108.1 321.1L109.4 326.3L110.2 353.5L111.3 350.6L112.9 340.2L114.3 332.1L115.7 328L117.1 325.8L118.3 324.6L120.1 331.5L121.7 340.8L123 350.7L124.4 357.3L125.8 357.3L127.4 352.9L128.8 339.8L129.9 335.9L131.8 353.4L132.8 352.8L134.2 350.3L135.6 342.2L137 336.1L138.6 327.6L140.2 323.8L141.8 317.2L143.2 315.6L144.6 321.2L145.8 328.7L147.1 339.7L148.5 347.6L150.1 353.4L151.4 352.9L153 347.2L154.4 335.9L155.8 325.4L157.2 314.3L158.6 310.6L160 316.5L161.4 324L162.9 326.5L164.3 325.6L165.6 321.5L167 319.4L168.4 320L169.7 326.1L171 336.2L172.3 342.4L173.6 345.3L174.9 346.7L176.3 345.9L177.9 337.4L179.2 332.5L180.6 328.7L181.9 325.2L183.3 321.5L184.8 318.1L186.1 311.7L187.1 310.4L188.6 320.9L189.8 336L191.4 357.8L193 378.8L194.8 396L196.9 407.1L198.3 406.7L200 401.7L201.7 394L203.4 383.3L205 370.1L206.6 352.7L208.1 333L210.1 314.7L211.6 312.6L213.1 312.8L215.1 319.4L217.3 327.1L219.1 326.7L221.3 314.7L222.3 316.5L223.5 324.4L224.8 332.3L225.8 334.1L228.4 316.9L229.3 316.8L230.4 316.4L232.4 327.7L234.1 338.3L235.6 352.1L237.1 365.2L238.3 380.4L239.5 391.2L240.8 392.3L242.6 381.5L244.1 368.3L245.6 353.4L247.1 336.4L248.7 323.5L250.3 316.5L252.2 322.6L254.2 333.8L255.7 350.4L257.2 367.8L258.7 374.9L260.2 384.4L261.5 395L262.7 398.1L264 393.6L265.2 381.1L266.5 372.6L267.9 368.9L269.2 363.2L270.7 361.6L272.2 359.6L273.7 360.4L275.2 362.2L276.6 368.7L277.9 373.1L278.9 373.6L280.6 362.1L281.9 352.4L283.2 340.5L284.6 340.3L286.2 344.7L287.7 354.5L289.2 359L290.6 355.1L291.9 351.7L293 349.6L294.8 365.4L296.3 381.2L298.6 396.1L299.8 394.7L301.3 390.8L303 389.1L305.3 398.4L306.5 409.7L307.6 412.6L309 404.8L310.3 393.1L311.8 388.4L313.3 388.3L314.8 386.4L316.3 385.3L318 384.8L320 394.1L322 406.5L323 406.3L324.2 405L326.1 408L328.3 391.4L329.8 377.5L331.4 360.8L332.6 349.2L333.9 343.5L335.1 346.7L336.7 356.1L337.9 355.3L339.4 353.7L340.9 341.4L342.4 327.4L344.4 327.3L345.9 329.7L347.5 333.5L348.6 332.6L350 329.3L351.8 331.1L353.1 343.7L354.4 357.4L356.1 380L357.9 393.5L359.1 388.5L360.4 372.5L361.9 353.8L363.4 336.3L364.9 329.4L366.4 324.8L368.2 324.3L370.7 331.9L372.4 330.6L374.4 327.9L376 330.5L377.2 331.7L378.7 325.9L379.9 316.5L381.2 310.7L382.2 308.7L384.5 328.6L386.5 338L388.5 365.7L389.8 381.3L391 378.7L392.5 364.2L394 351.5L395.5 339.5L397 331.5L398.5 324.5L400 319.2L401.7 313.3L403 313.6L404.5 316L406.5 349.4L408 350.3L409.5 351.6L411 350.1L412.5 347.7L414 351.5L415.6 357.1L416.9 362.5L418.2 365.3L419.6 371.3L420.9 373.4L422.2 375.8L423.4 376.1L424.9 372.6L426.2 372.3L427.7 369.7L428.9 370.3L430.1 369.7L431.6 372.1L433.3 371.8L435 369.7L437 356.3L438.5 345.5L440 334.3L441.4 329.2L442.7 324.6L443.8 324.3L445.5 331.4L447.2 336L448.5 334.4L450 328L451.9 320L453.6 317.6L454.9 319.1L456.3 324.7L457.6 324.7L459 323.5L460.6 326.2L462.1 326.5L463.6 323.1L465.1 319.9L466.6 311.6L468.3 305.2L469.6 305.9L471.1 307.6L473.2 310L474.6 309.2L476.1 308.5L478.1 310.8L479.3 309L480.3 309L481.8 315.4L483.4 322.9L484.6 322.4L486.1 320.8L487.7 319L489.3 316.4L490.9 315L492.6 314.1L494.2 311.1L495.5 304.8L496.8 301.7L498.2 296.2L499.8 292.5L501.5 286.1L503.2 282.6L504.5 277.9L505.8 277.6L507.1 276.6L508.7 280.1L510.2 283.9L512.4 279.3L513.7 279.9L515.2 283L516.7 288.4L518.2 293.8L519.7 295.1L521.2 295.6L522.7 300.5L524.1 303.8L525.7 297.7L527.2 289L528.7 287.8L530.2 289.1L531.7 298.6L533.2 305.9L534.8 308.9L536.1 309.8L537.8 307.1L539.3 300L540.6 289.3L542 284.6L543.1 286.7L544.3 294L545.8 297.3L547.3 297.8L548.8 293.4L550.3 286.4L552.3 284.2L553.8 285L555.2 286.1L556.8 282.6L558.2 281.6L559.8 284.9L561.3 292.8L562.8 297.3L564.3 301.7L565.7 302.9L567 307.6L568.3 308.6L569.7 313.1L571 313.5L572.3 317.9L573.7 319.2L575 323.5L576.4 324.7L577.9 327.6L579.4 330.5L580.9 331.1L582.4 333.8L584 334.2L585.6 336.5L587.2 339.8L588.8 339.2L590.3 340.1L592 336.9L593.6 333.7L595.2 329.7L596.8 325.6L598.4 321.2L599.9 315.6L601.6 309.4L602.9 310.8L604.4 313.2L606.4 331.6L607.9 320.3L609.4 304.1L611.1 302L613.4 314.8L614.9 315.7L616.4 316L618 336L619.7 348.5L621 346L622.5 333.9L624 331.7L625.5 330.6L627 328.5L628.7 322.5L630 322.6L631.5 322.6L633.5 356.9L635.7 371.9L637 368.8L638.5 356.4L640 336.9L641.5 316.2L642.8 307.2L643.9 303.5L645.3 313L646.5 324.7L648.9 382.4L650 378.9L651.5 366.8L653 353.9L654.5 345L656 343.7L657.5 343.8L659 344.9L660.6 348.1L662.1 351.1L663.6 352.7L665.1 356.7L666.6 358L667.9 358.1L669.2 364.8L670.6 367.4L672.6 386.7L673.9 392.6L675.1 392.9L676.6 389.1L678.6 351.7L680 344.2L681.3 339.1L682.5 340.6L684 340.9L685.5 340.8L687.2 337.6L688.5 337.9L689.9 336.8L691.7 338.5L693.3 326.3L694.6 319.7L695.8 323L697.1 331.2L698.6 334.9L700.1 339.9L701.6 341.9L703.1 344.9L704.6 346L706.1 347.2L707.6 358.7L709.1 370.4L710.4 373.5L711.5 373.8L713.1 368.2L715.1 345.6L717.2 334.2L718.6 338L720.1 339.8L721.2 351.3L722.9 322.7L724 323.6L725.1 323.5L726.6 322.3L727.9 322L730.3 326.8L731.6 325.2L733.3 321.3L734.7 322.5L736.2 325.8L737.7 334.4L739.2 341.2L740.7 345.7L742.3 349.6L743.5 349.1L744.8 348.6L746.2 344.7L747.5 334.2L748.9 321.5L750.2 316.6L751.7 321.1L753.2 329.8L754.5 342.7L755.7 345.5L757.5 335.6L759.2 317.7L760.7 311.7L762.4 307.4L763.7 308.6L765.3 312.5L766.5 310.9L767.8 308.5L769 310.6L770.3 311.8L771.7 310.6L773.2 311.2L774.8 308.3L776.3 307.8L777.8 309.7L779.3 313.9L780.9 317.7L782.5 321.2L784.1 325L785.7 331.8L787.3 334.8L788.9 347.1L790 345.2L791 345.2L793.3 373.1L794.6 384.8L796.2 398.2L797.1 397.2L798.3 396.6L800.1 395.4L801.2 395.9L802.8 386.1L804.3 377.8L806.7 360.3L808.3 361.2L810.6 356.3L811.8 356.9L813.4 358.5L814.8 357.7L816.4 354.4L817.7 356.3L818.8 356.2L820.4 360.2L821.7 361L823 361L824.4 361.6L825.7 360.2L827 359.4L828.4 358.5L829.9 357.1L831.2 356.2L832.9 362L834.4 370.5L835.9 386.2L837.6 396.2L838.9 391.9L840.4 381.4L841.9 364.5L843.4 350.6L845.7 340.4L846.9 340.7L848.6 344.7L849.8 344.1L851.1 342.5L852.4 338.3L853.8 334.9L855.2 331L856.6 328.7L858.1 328.5L859.5 329.9L860.8 342.3L862.1 354.1L863.7 360.7L865 358.2L866.6 354.1L867.8 355.6L869.1 358.6L870.5 363.4L872 368.7L873.4 371.3L875 367.4L876.7 362.5L878 362.8L879.5 364L881 362.7L882.2 361.8L884 369.8L885.5 381.8L887 399.9L888.6 408.2L890 402L891.5 386.7L893 369.9L894.5 357L895.9 357L897.2 358.7L898.6 360.1L899.9 358.8L901.2 359.4L902.6 359.4L903.9 361.9L905.2 365.8L906.6 366L907.9 362.7L909.2 355.9L910.6 353.3L912.2 355.7L913.9 358.9L915.6 362.5L917.1 366.1L918.5 370.4L920.1 373.2L922 371.8L923.5 372.5L925 373.7L926.3 372.7L927.3 371.1L929 391.5L929.8 389.6L931.3 384.1L932.4 385L933.7 389.5L934.3 419.3L935.9 449.3L937.6 463.4L939.2 451.6L940.9 423.9L942.5 412L944.1 400.9L945.6 389.8L947.1 379.2L949.3 370.6L951.1 373L952.6 383.7L954.1 399.2L955.6 407.5L957.1 414.9L958.4 420.7L960 426.5L961.7 425.1L962.9 413.8L964.4 405.9L965.6 407.2L967.1 410.8L968.6 415.6L970.4 422.3L971.5 422.3L973.2 424.9L974.7 432.9L976.1 438L977.7 431.7L979.2 416.4L980.7 402L982.2 390L983.7 373.9L985.5 364.4L986.7 365.7L988.2 369.3L989.7 380.6L991.2 392.4L993.5 417.7L994.5 416L995.7 413L997.1 420.5L998.7 428.6L999.8 427L1001.2 418.7L1002.7 418.5L1004.2 414.9L1005.7 407L1007.2 398.1L1008.7 398.2L1010.2 398.4L1011.7 404.3L1013.2 413.5L1015.3 420.7L1016.8 424.6L1018.3 424.2L1020.3 417.3L1021.8 402.5L1023.3 387.9L1025.3 367.4L1026.8 365.2L1028.3 362.8L1029.8 360.5L1031.1 359.6L1033.2 362.3L1035.2 359.4L1037.3 369L1038.8 379L1040.3 390.4L1042.3 412.1L1043.5 425L1044.9 431.9L1046 430.3L1047.1 430.3L1049.3 424.2L1051.2 427L1052.8 418.7L1054.6 409.1L1055.9 409.5L1057.4 412.7L1059.4 422.6L1061.4 427.4L1062.9 425.4L1064.5 421.2L1065.9 423.5L1067.4 431.8L1068.6 440.6L1069.6 444L1071.1 434.3L1072.4 419.8L1073.9 415.6L1075.2 414.4L1076.9 419.3L1078.4 426.4L1080.4 426.2L1082.4 436.8L1083.9 430.7L1085.4 421L1086.9 420.4L1088.2 420.8L1089.9 413.6L1091.7 407L1092.9 407.2L1094.4 410.5L1095.9 413.4L1097.2 414.4L1099 407.3L1100.7 401.9L1102 402L1103.5 404L1105 409.7L1106.2 410L1108 401.1L1109.7 391.9L1111 391.9L1112.5 391.6L1114 387.2L1115.4 385.8L1117 388.1L1118.5 391.1L1120 396.1L1121.3 396.8L1123 390.2L1124.5 380.3L1126 373.8L1127.5 367.4L1129 362.2L1130.2 360.9L1132 371.9L1133.5 385.4L1135 397.5L1136.4 400.9L1138 394.5L1139.6 386.6L1140.9 385.9L1142.6 388.8L1144.1 392.7L1145.3 392.9L1147.1 384.3L1148.6 371.5L1150.1 366.1L1151.7 362.3L1153.1 362.7L1154.6 364.3L1156.1 366.4L1157.6 366.6L1158.8 363.2L1159.9 362.8L1161.2 364.3L1162.6 367.4L1163.7 366.6L1164.9 366.2L1166.1 364.1L1167.1 363.4L1168.5 367.7L1169.7 374L1171.3 389L1172.9 387.3L1174.8 369.1L1176 355.8L1177.2 343.5L1178.8 334.5L1180.5 329.1L1182.5 336.9L1183.6 337.5L1185 336.4L1186.5 336.8L1188.1 327.9L1189.5 322.6L1191 325.8L1192.5 326.7L1194.4 324.4L1196.7 330.8L1198.6 328.5L1200.2 327.6L1202.2 322.8L1203.9 326.7L1205.4 331.2L1206.7 315.2L1207.9 297.6L1208.5 297.4" stroke="#FFC0CB" stroke-width="2.95"/>
<path class="s x" d="M67.6 323.1L70 310.1L74 310.1L77.4 328.9L80 325.1L83.4 311.5L85.7 312.7L90.1 295.1L93.1 283L95.9 281.7L98.1 287.1L100.1 308.1L102.9 310.8L106.1 304.1L108.9 309L111.6 301.6L114.6 315.9L117.1 314.1L120.1 315.1L123.2 314.1L126.2 318.3L129.2 315.1L131.1 307L134.6 323.5L137.2 321.1L140.2 308.1L142.4 302.5L145.2 306.1L148.2 317.1L150.9 319.7L154.2 307.1L156.2 300.1L159 293.5L162.2 308.1L165 317.6L169.3 296.1L172.3 314.1L175.3 323.1L178.3 331.2L182.3 331.2L186.3 303.1L188.9 294.9L192.3 331.2L194.7 377.3L197.5 406.1L200.3 385.3L203.3 377.3L205.3 349.2L208.4 315.1L211.7 300.2L214.3 301.4L217 298.9L220.8 313.6L223.4 311.1L226.4 300.1L230.6 289.3L233.4 308.1L236.4 319.1L239.4 331.2L241.9 370.1L244.4 361.2L247.4 341.2L250.7 332L252.5 333.2L255.5 353.2L258.5 373.3L261.5 393.3L264.2 406.6L267.5 369.3L270.5 343.2L273.6 339.7L276.5 342.2L280.2 340L283.5 348.1L286.5 339.2L290.6 331.2L293.7 326.1L296.6 349.2L299.6 361.2L302.9 375.8L305.5 374.2L310 381.3L312.6 383.7L316.2 369.3L319 377.3L322.5 400.9L325.1 397.3L328 383.1L329.9 385.6L333.1 355.2L335.8 351.3L339 360.3L342.1 345.2L345.3 338.3L348.1 341.2L351.1 351.2L354.1 369.3L358.1 403.9L361.1 377.3L364.2 355.2L367.2 344.6L370.2 353.2L373.9 361.8L377.2 345.2L380.5 331.8L384.2 333.2L388.2 345.2L391.5 370.6L394.2 359.2L398.2 353.2L401.2 331.2L404 324.7L407.3 341.2L410.3 345.2L413.3 355.2L416.7 372L419.9 370.6L424.2 390.5L427.3 373.3L430.3 367.1L433 370.2L436.3 349.2L440.3 345.2L444.5 336.4L448.2 339.9L452.4 331.2L456.4 329.2L460.3 333.9L464.4 325.1L468.4 313.1L472.4 308.1L476.4 311.1L479.4 331.2L481.6 345.9L484.9 332.5L488.4 334.5L492.5 329.2L496.7 320L500.2 322.1L504.6 313.2L508.4 318.9L512.7 309.4L516.5 313.1L520.5 331.2L524.4 334.3L528.5 325.1L532.4 314.9L537.8 335.5L542.6 323.1L546.3 315.9L550 326.8L552.4 320.9L556.1 324.6L559.8 323L564.1 337.2L567.1 351.2L570 368.7L573.1 345.2L576.1 341.2L579.7 335.5L583.1 351.2L586.1 363.2L588.5 374.8L591.5 363L593.8 365.3L597.1 341.2L600 336.9L602.9 341.7L606.2 325.1L609 321L612.2 331.2L615.3 356.9L618.6 344.3L621.2 349.2L624.2 353.2L627.1 371.7L630.6 354L633.2 361.2L636.3 381.7L639.2 365.2L642 357.6L645.3 377.3L648.4 397.2L651.3 385.3L654.5 369.3L657.3 377.3L660.3 394.3L663.6 381L666.2 384.3L669.3 377.3L672.3 389.3L676.6 398.7L681 335L684.5 340.7L688.4 339.2L692.2 336.1L696.4 343.6L700.2 339.1L704.4 351.2L708.4 361.2L712.9 372.7L716.9 342.9L719.4 345.2L721.7 372.2L724.4 349.2L728.5 340.8L732.5 346.1L736.3 342.6L740.7 352.2L744.5 349.2L748.5 341.2L752.5 333L756.1 337.9L760.8 310.4L763.6 315.8L767.4 308.6L770.6 321.1L774.2 326.8L778.9 309.9L782.8 316.2L786.3 314.2L790 325.1L791 361.2L794 389.2L796.7 393.1L800 379.2L803.1 361.2L806.1 355.1L810.1 342.4L813.3 349.8L816.1 347.1L820.1 341.1L824.2 331.2L828.1 339.1L832.2 344.7L834.8 343.9L838.4 357.8L841.1 351.1L844.2 335.1L847.4 323.1L850.2 327.1L853.2 329.6L856.2 327.1L859.9 319.9L863.2 335.1L866.2 347.1L869.2 361.2L872.2 372.8L875.2 361.2L878.2 355L881.2 361.2L884.3 383.2L887.5 402.9L890.3 395.2L893.3 375.2L896.3 361.2L900.5 349.1L904.1 353.3L908.6 342.7L912.3 344.1L915.3 355.1L918.3 361.2L921.2 364.1L924.3 357.1L927.5 350.2L930.4 353.1L933.4 355.1L936.4 407.3L939.2 417.5L942.4 395.2L945.4 355.1L948.5 348.7L951.4 353.1L954.4 375.2L957.4 385.5L960.4 375.2L963.4 363.2L966.4 361.2L969.1 360L972.5 379.2L975.8 402.7L978.5 395.2L981.5 367.2L984.5 353.1L987.5 350.7L991.5 355.1L994.5 379.2L997.5 391.2L1000.2 393.7L1004.5 371.2L1008.5 360L1012.6 371.2L1016.5 380.5L1019.6 371.2L1022.6 363.2L1026.6 359.7L1029.7 361.9L1032.1 354.2L1035.1 345.9L1038.1 354.2L1041.1 402.3L1044.4 431.5L1047.1 418.3L1050.1 402.3L1054.4 382.3L1057.1 388.2L1061.2 402.3L1064.2 406.3L1067.2 410.3L1070.2 421.7L1074.5 404.9L1079 405.8L1083.2 396.3L1086.5 385L1089 385.5L1092.2 376.2L1095.1 371.9L1098.3 378.1L1102.5 370.7L1106 371.6L1109.3 362.2L1112.3 350.1L1114 349.1L1117.3 364.2L1120.3 374.2L1123.1 382.2L1126.3 366.2L1129.7 342.4L1132.3 344.1L1135.3 368.2L1138.3 374.1L1141.6 367.4L1144 368.8L1147.4 356.2L1151.2 353L1155.4 360.2L1159.4 359.2L1163.4 356.2L1167.1 351.7L1171.4 366.2L1174 371L1177.4 348.1L1181.4 338.1L1185.5 336.1L1189.5 340.1L1193.5 338.1L1197.5 344.1L1201.4 347.3L1205.5 340.1L1208.5 330.1" stroke="#708090" stroke-width="2.95"/>
<path class="s" d="M67.6 340.2L72 337.2L76 349.2L80 345.2L84.1 340.2L88.1 342.2L92.1 335.2L96.1 332.2L100.1 343.2L103.1 337.2L107.1 334.2L112.1 343.2L118.1 341.2L124.2 345.2L130.2 351.2L136.2 356.2L142.2 345.2L148.2 361.2L154.2 356.2L158.2 351.2L163.2 362.2L168.3 351.2L173.3 361.2L178.3 353.2L182.3 360.2L186.3 365.2L190.3 369.3L193.3 377.3L197.3 381.3L200.3 374.3L204.3 369.3L209.4 359.2L214.4 365.2L217.4 369.3L220.4 361.2L223.4 359.2L226.4 361.2L230.4 357.2L234.4 359.2L238.4 371.3L241.4 374.3L245.4 367.2L250.5 359.2L255.5 353.2L260.5 355.2L264.5 361.2L268.5 365.2L272.5 361.2L278.5 359.2L282.5 353.2L286.5 354.2L292.6 351.2L297.6 359.2L302.6 363.2L306.6 353.2L310 350.2L312 346.2L317 341.2L322.1 359.2L327.1 365.2L332.1 357.2L337.1 359.2L342.1 351.2L347.1 345.2L352.1 349.2L357.1 359.2L362.1 351.2L367.2 343.2L372.2 345.2L377.2 349.2L382.2 345.2L388.2 341.2L394.2 349.2L400.2 343.2L405.3 344.2L410.3 349.2L415.3 359.2L421.3 365.2L427.3 363.2L433.3 370.3L439.3 361.2L444.3 353.2L450.4 358.2L456.4 349.2L462.4 345.2L468.4 335.2L474.4 329.2L480.4 333.2L485.4 331.2L490.5 337.2L495.5 331.2L499.5 328.2L504.5 337.2L510.5 344.2L516.5 333.2L523.5 352.2L531.6 339.2L538.6 354.2L545.6 339.2L550 338.2L552 338.2L556 334.2L560 327.1L563.7 323.1L567.1 341.2L570.1 349.2L574.1 341.2L578.1 337.2L582.1 334.2L586.1 339.2L590.1 345.2L594.1 349.2L598.1 345.2L602.1 347.2L606.2 346.2L610.2 345.2L615.2 349.2L620.2 342.2L625.2 357.2L630.2 349.2L636.2 363.2L640.2 361.2L644.3 365.2L648.3 381.3L652.3 369.3L657.3 363.2L662.3 377.3L666.3 385.3L670.3 379.3L673.3 385.3L676.3 383.3L680.3 369.3L684.3 361.2L688.4 351.2L692.4 355.2L696.4 351.2L700.4 354.2L704.4 349.2L710.4 351.2L716.4 347.2L722.4 345.2L728.5 343.2L734.5 341.2L740.5 339.2L746.5 335.2L752.5 334.2L758.5 329.2L764.5 325.1L770.6 324.1L776.6 331.2L782.6 329.2L787.6 335.2L790 341.2L793 345.1L798 351.1L803.1 355.1L808.1 349.1L814.1 350.1L820.1 345.1L826.1 344.1L832.1 347.1L838.1 353.1L842.1 351.1L847.2 347.1L852.2 339.1L857.2 333.1L861.2 331.1L866.2 332.1L870.2 341.1L875.2 353.1L880.2 347.1L884.3 343.1L889.3 357.1L894.3 363.2L899.3 375.2L904.3 379.2L909.3 373.2L913.3 381.2L917.3 391.2L922.3 385.2L927.4 383.2L932.4 379.2L937.4 395.2L941.4 405.3L945.4 391.2L950.4 383.2L955.4 391.2L960.4 383.2L965.4 381.2L970.5 377.2L975.5 383.2L980.5 371.2L985.5 363.2L990.5 361.2L995.5 375.2L1000.5 379.2L1005.5 377.2L1010.6 372.2L1016.6 379.2L1022.6 375.2L1030 373.2L1035.1 364.2L1040.1 361.2L1044.1 370.2L1048.1 380.2L1053.1 390.2L1059.1 388.2L1064.2 394.3L1067.2 392.2L1071.2 400.3L1076.2 399.3L1080.2 398.3L1083.2 405.3L1088.2 394.3L1093.2 388.2L1099.2 386.2L1105.3 382.2L1111.3 378.2L1117.3 378.2L1123.3 378.2L1129.3 378.2L1135.3 376.2L1141.3 374.2L1147.4 366.2L1153.4 362.2L1159.4 356.2L1164.4 352.1L1169.4 344.1L1175.4 338.1L1180.4 335.1L1185.5 331.1L1190.5 326.1L1195.5 318.1L1199.5 314.1L1203.5 309L1208.5 307" stroke="#F4A460" stroke-width="2.95"/>
<path class="s" d="M67.6 359.2L72 353.2L77 345.2L80 344.2L86.1 351.2L92.1 337.2L97.1 327.1L102.1 331.2L108.1 327.1L114.1 335.2L120.1 339.2L126.2 341.2L132.2 344.2L140.2 348.2L146.2 345.2L152.2 347.2L158.2 343.2L164.3 337.2L169.3 341.2L174.3 349.2L180.3 344.2L186.3 347.2L190.3 344.2L193.3 353.2L197.3 367.2L201.3 377.3L206.4 383.3L211.4 373.3L215.4 351.2L218.4 343.2L222.4 341.2L226.4 344.2L230.4 338.2L234.4 334.2L239.4 336.2L243.4 345.2L248.5 349.2L253.5 344.2L258.5 345.2L262.5 351.2L266.5 373.3L270.5 383.3L275.5 373.3L280.5 369.3L284.5 365.2L290.6 359.2L296.6 348.2L300.6 348.2L303.6 356.2L307.6 363.2L310 364.2L314 377.3L320 383.3L325.1 393.3L329.1 399.3L333.1 390.3L338.1 381.3L343.1 369.3L348.1 345.2L353.1 340.2L356.1 337.2L360.1 345.2L364.2 357.2L369.2 349.2L374.2 345.2L380.2 342.2L385.2 338.2L390.2 335.2L394.2 346.2L399.2 353.2L403.2 349.2L408.3 337.2L413.3 341.2L418.3 349.2L423.3 357.2L428.3 363.2L433.3 365.2L437.3 367.2L442.3 359.2L447.4 351.2L452.4 345.2L458.4 339.2L463.4 337.2L468.4 331.2L473.4 323.1L478.4 318.1L483.4 323.1L488.5 329.2L493.5 329.2L498.5 323.1L503.5 317.1L508.5 310.1L514.5 307.1L520.5 303.1L526.5 306.1L532.6 314.1L538.6 316.1L543.6 318.1L550 311.1L552 308.1L559 306.1L566.1 304.1L572.1 311.1L578.1 317.1L584.1 323.1L590.1 331.2L595.1 341.2L600.1 353.2L603.2 362.2L607.2 353.2L611.2 351.2L616.2 341.2L621.2 338.2L626.2 339.2L631.2 338.2L636.2 331.2L641.2 343.2L645.3 337.2L649.3 341.2L654.3 351.2L659.3 350.2L664.3 349.2L670.3 356.2L676.3 367.2L681.3 371.3L686.4 361.2L691.4 351.2L696.4 346.2L701.4 343.2L706.4 345.2L711.4 343.2L716.4 342.2L721.4 344.2L726.4 339.2L731.5 332.2L736.5 328.2L741.5 327.1L746.5 331.2L751.5 333.2L756.5 329.2L761.5 325.1L766.5 322.1L772.6 320.1L778.6 323.1L783.6 325.1L790 319.1L791 321.1L796 333.1L800 355.1L804.1 371.2L808.1 375.2L813.1 365.2L818.1 359.2L824.1 351.1L830.1 348.1L837.1 351.1L841.1 363.2L845.2 375.2L849.2 365.2L854.2 355.1L859.2 349.1L864.2 344.1L869.2 351.1L874.2 354.1L879.2 359.2L884.3 361.2L889.3 367.2L894.3 383.2L899.3 385.2L904.3 383.2L910.3 377.2L916.3 376.2L922.3 375.2L928.4 375.2L934.4 374.2L939.4 375.2L943.4 389.2L948.4 399.3L952.4 389.2L956.4 383.2L961.4 391.2L966.4 397.2L970.5 387.2L975.5 395.2L980.5 401.3L985.5 389.2L990.5 379.2L995.5 373.2L999.5 371.2L1004.5 383.2L1009.6 393.2L1014.6 395.2L1020.6 397.2L1025.6 391.2L1030 383.2L1035.1 378.2L1040.1 372.2L1044.1 372.2L1048.1 386.2L1052.1 402.3L1057.1 408.3L1062.2 406.3L1067.2 412.3L1072.2 412.3L1076.2 418.3L1081.2 422.3L1086.2 418.3L1090.2 416.3L1095.2 416.3L1100.2 411.3L1106.3 404.3L1112.3 398.3L1118.3 391.2L1124.3 384.2L1129.3 379.2L1134.3 370.2L1138.3 369.2L1142.3 376.2L1146.4 378.2L1151.4 370.2L1157.4 365.2L1163.4 366.2L1168.4 362.2L1172.4 360.2L1176.4 361.2L1180.4 352.1L1184.4 348.1L1189.5 348.1L1194.5 346.1L1198.5 341.1L1203.5 339.1L1208.5 336.1" stroke="#FF0000" stroke-width="2.95"/>
<path class="s" d="M67.6 357.2L71 344.2L75 337.2L79 353.2L83.1 355.2L87.1 345.2L92.1 335.2L95.1 327.1L98.1 318.1L101.1 327.1L105.1 329.2L110.1 324.1L114.1 335.2L119.1 337.2L124.2 340.2L129.2 345.2L134.2 342.2L139.2 345.2L144.2 337.2L148.2 341.2L153.2 347.2L158.2 340.2L162.2 337.2L166.3 340.2L170.9 325.1L174.3 343.2L178.3 350.2L182.3 347.2L186.3 344.2L190.3 336.2L193.3 345.2L197.3 373.3L200.3 384.3L204.3 381.3L208.4 385.3L211.4 361.2L214.4 337.2L217.4 329.2L221.4 329.2L225.4 348.2L228.4 341.2L231.4 329.2L235.4 335.2L239.4 349.2L242.4 365.2L245.4 362.2L249.5 344.2L253.5 339.2L257.5 349.2L261.5 369.3L264.5 385.3L268.5 396.3L271.5 375.3L275.5 368.2L279.5 369.3L283.5 365.2L287.5 359.2L291.6 361.2L296.6 350.2L299.6 365.2L303.6 379.3L306.6 374.3L310 385.3L315 387.3L319 385.3L324.1 395.3L328.1 398.3L332.1 381.3L336.1 365.2L340.1 369.3L344.1 349.2L349.1 341.2L353.1 337.2L358.1 353.2L362.1 369.3L366.2 355.2L370.2 345.2L373.2 344.2L376.2 351.2L380.2 342.2L384.2 333.2L389.2 340.2L393.2 355.2L397.2 360.2L401.2 349.2L405.3 328.2L409.3 343.2L413.3 348.2L418.3 356.2L423.3 359.2L428.3 363.2L432.3 360.2L436.3 363.2L440.3 353.2L444.3 347.2L449.4 348.2L453.4 339.2L458.4 333.2L463.4 335.2L468.4 322.1L472.4 314.1L477.4 315.1L481.4 313.1L485.4 329.2L490.5 321.1L495.5 311.1L500.5 302.1L505.5 295.1L509.5 289.1L512.5 295.1L516.5 287.1L520.5 292.1L524.5 305.1L528.5 308.1L532.6 299.1L536.6 311.1L540.6 316.1L544.6 303.1L550 302.1L555 297.1L560 290.1L565.1 297.1L570.1 307.1L576.1 318.1L582.1 329.2L588.1 341.2L594.1 347.2L598.1 349.2L602.1 331.2L605.2 321.1L608.2 324.1L612.2 312.1L617.2 315.1L622.2 329.2L627.2 331.2L632.2 323.1L636.2 349.2L640.2 345.2L644.3 333.2L648.3 322.1L651.3 347.2L655.3 353.2L660.3 353.2L666.3 357.2L672.3 358.2L677.3 381.3L681.3 365.2L686.4 355.2L691.4 347.2L696.4 341.2L702.4 340.2L706.4 347.2L711.4 353.2L714.4 363.2L718.4 345.2L722.4 347.2L726.4 337.2L731.5 331.2L735.5 326.1L740.5 335.2L744.5 343.2L749.5 338.2L755.5 331.2L760.5 335.2L765.5 323.1L770.6 321.1L775.6 322.1L780.6 315.1L785.6 317.1L790 331.2L793 333.1L797 361.2L800 381.2L803.1 387.2L807.1 375.2L811.1 361.2L815.1 359.2L820.1 355.1L825.1 348.1L830.1 355.1L834.1 353.1L838.1 375.2L842.1 380.2L846.2 369.2L850.2 359.2L856.2 351.1L861.2 345.1L866.2 352.1L871.2 359.2L877.2 360.2L883.2 359.2L888.3 379.2L892.3 389.2L896.3 379.2L901.3 377.2L906.3 373.2L912.3 371.2L916.3 365.2L921.3 375.2L927.4 374.2L933.4 372.2L937.4 389.2L941.4 413.3L945.4 403.3L949.4 381.2L953.4 378.2L957.4 389.2L961.4 411.3L965.4 395.2L969.5 387.2L973.5 395.2L977.5 417.3L981.5 409.3L985.5 383.2L989.5 373.2L994.5 375.2L998.5 387.2L1002.5 403.3L1007.5 397.2L1012.6 389.2L1017.6 404.3L1022.6 397.2L1027.6 379.2L1030 377.2L1034.1 372.2L1038.1 371.2L1042.1 376.2L1045.1 398.3L1049.1 410.3L1053.1 414.3L1059.1 411.3L1065.2 415.3L1070.2 414.3L1074.2 422.3L1078.2 418.3L1082.2 422.3L1087.2 418.3L1092.2 410.3L1097.2 406.3L1102.3 398.3L1107.3 394.3L1112.3 390.2L1115.3 382.2L1119.3 383.2L1123.3 390.2L1127.3 384.2L1130.3 374.2L1133.3 367.2L1137.3 378.2L1141.3 384.2L1146.4 380.2L1151.4 372.2L1157.4 369.2L1162.4 371.2L1167.4 366.2L1171.4 362.2L1175.4 378.2L1179.4 356.2L1183.4 350.1L1188.5 348.1L1193.5 342.1L1197.5 337.1L1201.5 341.1L1205.5 336.1L1208.5 325.1" stroke="#4169E1" stroke-width="2.95"/>
<path class="s" d="M67.6 340.2L71 349.2L77 351.2L82.1 333.2L88.1 319.1L93.1 323.1L98.1 329.2L103.1 334.2L109.1 338.2L114.1 339.2L119.1 344.2L124.2 345.2L129.2 343.2L135.2 339.2L140.2 342.2L145.2 346.2L150.2 337.2L156.2 337.2L161.2 334.2L166.3 343.2L171.3 353.2L176.3 347.2L181.9 339.2L185.3 356.2L189.3 373.3L192.7 387.3L197.3 383.3L200.3 371.3L203.3 345.2L208 323.1L212.4 328.2L218.4 342.2L223.4 340.2L228.4 340.2L234 364.2L239.4 355.2L244.4 336.2L249.5 357.2L254.5 384.3L260.5 396.3L264.5 381.3L267.5 369.3L272.5 363.2L280.5 357.2L286.5 356.2L290.6 367.2L296.6 381.3L301.6 382.3L305.6 387.3L310 389.3L312 390.3L318 398.3L322.1 387.3L327.1 369.3L332.1 357.2L337.1 345.2L343.1 335.2L349.1 356.2L354.1 369.3L359.1 357.2L364.2 345.2L370.2 342.2L375.2 334.2L380.2 340.2L385.2 356.2L391.2 360.2L395.2 334.2L400.2 334.2L405.3 349.2L410.3 356.2L416.3 361.2L422.3 362.2L428.3 358.2L433.3 350.2L438.3 345.2L442.3 343.2L447.4 334.2L453.4 330.2L458.4 329.2L463.4 313.1L468.4 311.1L473.4 321.1L479.4 331.2L484.4 323.1L489.5 308.1L494.5 297.1L499.5 291.1L504.5 289.1L509.5 292.1L514.5 303.1L520.5 305.1L526.5 306.1L531.6 315.1L536.6 306.1L542.6 298.1L547.6 296.1L550 293.1L552 291.1L557 295.1L562.1 305.1L567.1 317.1L573.1 331.2L579.1 342.2L584.1 347.2L589.1 348.2L593.1 334.2L598.1 319.1L603.2 314.1L609.2 314.1L614.2 331.2L620.2 336.2L625.2 333.2L630.2 349.2L636.2 348.2L641.2 349.2L645.9 359.2L651.3 348.2L656.3 353.2L661.3 357.2L666.3 375.3L671.3 369.3L676.3 354.2L681.3 345.2L687.4 339.2L693.4 343.2L698.4 349.2L703.4 361.2L708.4 351.2L714.4 340.2L719.4 338.2L723.4 328.2L729.5 330.2L733.5 340.2L738.5 341.2L743.5 333.2L749.5 334.2L754.5 324.1L759.5 318.1L764.5 321.1L770.6 315.1L776.6 315.1L781.6 329.2L785.6 353.2L790 383.3L792 387.2L797 383.2L802.1 361.2L808.1 354.1L815.1 351.1L823.1 353.1L828.1 369.2L834.1 378.2L839.1 361.2L844.2 349.1L850.2 348.1L857.2 349.1L864.2 361.2L871.2 360.2L876.2 363.2L882.2 383.2L886.3 389.2L892.3 375.2L900.3 372.2L906.3 366.2L912.3 371.2L917.3 376.2L922.3 374.2L927.4 383.2L932.4 409.3L937.4 405.3L942.4 375.2L947.4 389.2L953.4 413.3L958.4 399.3L963.4 393.2L968.5 415.3L973.5 409.3L978.5 373.2L983.5 373.2L988.5 391.2L994.5 407.3L1000.5 401.3L1005.5 393.2L1010.6 400.3L1015.6 393.2L1020.6 375.2L1025.6 371.2L1030 372.2L1034.1 390.2L1038.1 410.3L1042.1 420.3L1047.1 415.3L1052.1 413.3L1057.1 415.3L1062.2 420.3L1068.2 423.3L1074.2 422.3L1080.2 418.3L1084.2 410.3L1089.2 404.3L1095.2 398.3L1101.3 390.2L1106.3 384.2L1110.3 378.2L1115.3 387.2L1120.3 384.2L1125.3 370.2L1130.3 376.2L1135.3 386.2L1140.3 378.2L1145.4 371.2L1151.4 370.2L1157.4 368.2L1162.4 365.2L1166.4 368.2L1171.4 356.2L1176.4 345.1L1181.4 343.1L1186.5 338.1L1191.5 337.1L1195.5 332.1L1199.5 326.1L1203.5 319.1L1208.5 324.1" stroke="#8B0000" stroke-width="2.95"/>
</g>
<rect x="67.3" y="260.1" width="1141.1" height="236.1" fill="none" stroke="#000" stroke-width="2.05"/>
<path d="M67.3 496.2v4.9M192.4 496.2v4.9M320.5 496.2v4.9M447.7 496.2v4.9M572.7 496.2v4.9M700.9 496.2v4.9M828 496.2v4.9M953.1 496.2v4.9M1081.3 496.2v4.9M1208.4 496.2v4.9M67.3 496.2h-4.9M67.3 437.2h-4.9M67.3 378.2h-4.9M67.3 319.2h-4.9M67.3 260.1h-4.9" stroke="#000" stroke-width="2.0" fill="none"/>
<text class="tk" x="58.5" y="503.5" text-anchor="end">40</text>
<text class="tk" x="58.5" y="444.5" text-anchor="end">50</text>
<text class="tk" x="58.5" y="385.5" text-anchor="end">60</text>
<text class="tk" x="58.5" y="326.5" text-anchor="end">70</text>
<text class="tk" x="58.5" y="267.4" text-anchor="end">80</text>
</g>
<g id="panel-c">
<path d="M192.4 512.9V749M320.5 512.9V749M447.7 512.9V749M572.7 512.9V749M700.9 512.9V749M828 512.9V749M953.1 512.9V749M1081.3 512.9V749M67.3 693.6H1208.4M67.3 631.3H1208.4M67.3 569H1208.4" stroke="#b0b0b0" stroke-opacity="0.44" stroke-width="1.3" stroke-dasharray="1.8 1.75" fill="none"/>
<clipPath id="cp-c"><rect x="67.3" y="512.9" width="1141.1" height="236.1"/></clipPath>
<g clip-path="url(#cp-c)">
<path class="s m" d="M67.6 654.7L68.7 655.4L69.7 652.6L70.7 650.6L71.8 651L72.8 644.1L73.9 637.3L74.9 629.2L75.9 633.7L77 643.4L78 633.6L79.1 624.8L80.1 632.9L81.1 644.7L82.2 639L83.2 634.8L84.3 636.4L85.3 642.5L86.3 641.2L87.4 642.8L88.4 639.9L89.5 643.2L90.5 643.2L91.5 641.9L92.6 638.2L93.6 639.9L94.7 647.6L95.7 648.2L96.7 639.4L97.8 632.4L98.8 635.3L99.9 633.1L100.9 631L101.9 630L103 628.2L104 632L105.1 643L106.1 633.8L107.1 628.7L108.2 621L109.2 621L110.3 630.1L111.3 629.9L112.3 630.2L113.4 630.8L114.4 636.3L115.5 633.7L116.5 629.7L117.5 631.8L118.6 631.8L119.6 633.7L120.7 631.1L121.7 633.9L122.7 633.3L123.8 631.8L124.8 634.7L125.9 631.9L126.9 639L127.9 639L129 637.4L130 637L131.1 639.8L132.1 640.6L133.1 642.3L134.2 643.9L135.2 644.3L136.3 645.4L137.3 647L138.3 648.6L139.4 648.5L140.4 648.6L141.5 647.8L142.5 649L143.5 650.1L144.6 650L145.6 651L146.7 652.1L147.7 650.3L148.7 652.3L149.8 654.5L150.8 656.4L151.9 658.4L152.9 660.4L153.9 665.2L155 670L156 673.1L157.1 670.3L158.1 668.6L159.1 666.4L160.2 664.3L161.2 665.4L162.3 661.5L163.3 657.1L164.3 649.3L165.4 654.2L166.4 655.9L167.5 658.6L168.5 659.4L169.5 659.8L170.6 661L171.6 660L172.7 665L173.7 657.8L174.7 653.4L175.8 649.4L176.8 653.3L177.9 653.2L178.9 655.9L179.9 654L181 654.6L182 654.5L183.1 658.3L184.1 657.9L185.1 656.7L186.2 654.3L187.2 655.4L188.3 657.2L189.3 658.3L190.3 658.1L191.4 656.9L192.4 654.6L193.5 654.7L194.5 654.7L195.5 651.5L196.6 649.6L197.6 649.1L198.7 650.5L199.7 649.1L200.7 649.3L201.8 655.1L202.8 654.5L203.9 656.7L204.9 658.1L205.9 662.2L207 663.2L208 665.3L209.1 666.8L210.1 664.6L211.1 665L212.2 662.6L213.2 661.5L214.3 665.4L215.3 660.7L216.3 659.1L217.4 656.6L218.4 653.4L219.5 649.3L220.5 656.2L221.5 655.7L222.6 662L223.6 669.5L224.7 672.2L225.7 668.2L226.7 669.5L227.8 668.8L228.8 665.8L229.9 664.7L230.9 664.5L231.9 660.8L233 666.2L234 666L235.1 663.2L236.1 660.9L237.1 660.3L238.2 659L239.2 662.5L240.3 660.5L241.3 658.5L242.3 656.6L243.4 659.2L244.4 665.1L245.5 658.2L246.5 654.6L247.5 648.4L248.6 654L249.6 653.5L250.7 655.2L251.7 657.9L252.7 661L253.8 666.8L254.8 665.1L255.9 671.7L256.9 665.8L257.9 663.5L259 664.5L260 669.8L261.1 673.4L262.1 673.2L263.1 670.3L264.2 664.7L265.2 662.9L266.3 662.6L267.3 655.6L268.3 660.7L269.4 660.7L270.4 663.6L271.5 661.4L272.5 658.4L273.5 659.4L274.6 654.9L275.6 651.9L276.7 655L277.7 656.5L278.7 664.8L279.8 664.1L280.8 663.9L281.9 662.6L282.9 659.7L283.9 660.3L285 662.6L286 666.4L287.1 666.3L288.1 663.3L289.1 666.6L290.2 660.6L291.2 658.6L292.3 659.5L293.3 658.1L294.3 658.4L295.4 658.2L296.4 658.1L297.5 660.8L298.5 658L299.5 658.5L300.6 658.5L301.6 662L302.7 665.7L303.7 677.2L304.7 674.3L305.8 672.3L306.8 661.8L307.9 659.6L308.9 663.5L309.9 658.9L311 659.8L312 658.3L313.1 661.1L314.1 663.5L315.1 664.2L316.2 666.6L317.2 667.8L318.3 666.7L319.3 665.5L320.3 659.3L321.4 662.2L322.4 663.1L323.5 664.5L324.5 662L325.5 668.8L326.6 670.2L327.6 672.9L328.7 674.9L329.7 677L330.7 680L331.8 681.9L332.8 680.3L333.9 681L334.9 680.7L335.9 680.1L337 677.6L338 675.8L339.1 673.9L340.1 671.4L341.1 671.2L342.2 676.9L343.2 683.3L344.3 681.4L345.3 676.7L346.3 671.2L347.4 667.4L348.4 668L349.5 665.9L350.5 663.9L351.5 657.5L352.6 653.3L353.6 671.8L354.7 667.4L355.7 662.7L356.7 659.4L357.8 659.7L358.8 657.3L359.9 659.7L360.9 654.6L361.9 652.9L363 651.4L364 651.3L365.1 650.6L366.1 649.2L367.1 648.4L368.2 648.9L369.2 647.2L370.3 648.2L371.3 647L372.3 648.1L373.4 646.7L374.4 647.8L375.5 647.7L376.5 649.1L377.5 648.4L378.6 648.6L379.6 647.7L380.7 648.1L381.7 647.8L382.7 645.5L383.8 645.3L384.8 648.7L385.9 645.3L386.9 646.8L387.9 647.1L389 648.8L390 645.3L391.1 650.5L392.1 658.6L393.1 657L394.2 655.6L395.2 660.6L396.3 661.1L397.3 657.8L398.3 649.2L399.4 647.7L400.4 647L401.5 645.5L402.5 645L403.5 644.9L404.6 639.2L405.6 644.3L406.7 645.4L407.7 643.8L408.7 644.2L409.8 644.3L410.8 646.9L411.9 645.5L412.9 648.6L413.9 650.3L415 652.1L416 652.1L417.1 651.8L418.1 651.9L419.1 651.1L420.2 652L421.2 652.2L422.3 652.2L423.3 652L424.3 653.5L425.4 656.3L426.4 651L427.5 652.6L428.5 644.8L429.5 646.9L430.6 646.8L431.6 649.1L432.7 645.6L433.7 642.4L434.7 641.8L435.8 637.9L436.8 639.2L437.9 635.6L438.9 636.3L439.9 636.8L441 639.8L442 644.2L443.1 639.9L444.1 637.8L445.1 640.5L446.2 638.8L447.2 646.1L448.3 641.3L449.3 649.7L450.3 652.7L451.4 648.8L452.4 644.3L453.5 644.1L454.5 645.2L455.5 642.2L456.6 644.1L457.6 644.1L458.7 644.9L459.7 641.4L460.7 640.8L461.8 636.8L462.8 636L463.9 633.9L464.9 634.7L465.9 629.8L467 634.2L468 628.6L469.1 638L470.1 631.9L471.1 629.2L472.2 631.9L473.2 628L474.3 630.3L475.3 629.9L476.3 625.6L477.4 628.9L478.4 629.9L479.5 625.6L480.5 628.7L481.5 630.3L482.6 633.6L483.6 632.4L484.7 636.4L485.7 633.9L486.7 634.1L487.8 633.9L488.8 634.2L489.9 634.8L490.9 634.4L491.9 635.9L493 637L494 640.1L495.1 636.7L496.1 638L497.1 639L498.2 643.1L499.2 644.3L500.3 636.6L501.3 642.1L502.3 641.5L503.4 642.6L504.4 641.8L505.5 643.4L506.5 643.5L507.5 644.3L508.6 644.2L509.6 642.7L510.7 638.2L511.7 632.5L512.7 636L513.8 634.9L514.8 635.4L515.9 639.9L516.9 634.1L517.9 634.5L519 633.7L520 634.9L521.1 633.9L522.1 633.9L523.1 619.1L524.2 623.1L525.2 624.9L526.3 625.7L527.3 625.6L528.3 624.6L529.4 625.4L530.4 627.6L531.5 621.7L532.5 624.8L533.5 626.2L534.6 630.6L535.6 624L536.7 624.5L537.7 630.1L538.7 633.2L539.8 630.4L540.8 630.6L541.9 626.7L542.9 630.9L543.9 629.9L545 629.5L546 627.6L547.1 630.2L548.1 629.5L549.1 624.4L550.2 631L551.2 636.8L552.3 633.8L553.3 630.3L554.3 628.5L555.4 628.7L556.4 628.4L557.5 630L558.5 633.2L559.5 631.5L560.6 631.3L561.6 631L562.7 634.1L563.7 635.6L564.7 633.6L565.8 633.9L566.8 634.3L567.9 633.1L568.9 631.3L569.9 625.6L571 629.8L572 628L573.1 626.2L574.1 627L575.1 626.2L576.2 629.3L577.2 629.9L578.3 630.8L579.3 629.3L580.3 631L581.4 629.2L582.4 624.6L583.5 630L584.5 625.9L585.5 629.2L586.6 629.1L587.6 628.3L588.7 630.1L589.7 629.7L590.7 629.3L591.8 627.5L592.8 628.6L593.9 620.4L594.9 612.9L595.9 608.1L597 614.9L598 610.2L599.1 609L600.1 608.8L601.1 608.1L602.2 607.7L603.2 607.4L604.3 605.2L605.3 605.3L606.3 614.4L607.4 618.1L608.4 606.7L609.5 603.9L610.5 631.1L611.5 616.3L612.6 607.4L613.6 609.1L614.7 608.3L615.7 609.9L616.7 609.5L617.8 608.2L618.8 607.9L619.9 603.2L620.9 598.9L621.9 595.9L623 609.8L624 610.7L625.1 609.4L626.1 606.5L627.1 605.4L628.2 605.1L629.2 603.8L630.3 608.6L631.3 601.4L632.3 604.5L633.4 602.3L634.4 604.2L635.5 606.3L636.5 604.8L637.5 599.9L638.6 602.4L639.6 601.5L640.7 597.9L641.7 595L642.7 590.5L643.8 587.4L644.8 584.8L645.9 585.8L646.9 586.4L647.9 593.1L649 596.7L650 589.4L651.1 592.8L652.1 596.3L653.1 603.1L654.2 598.7L655.2 600.9L656.3 600.6L657.3 602.9L658.3 604.2L659.4 605.9L660.4 606.1L661.5 606.7L662.5 608.6L663.5 611.5L664.6 618.6L665.6 622L666.7 622.1L667.7 623.8L668.7 627.7L669.8 633L670.8 637.1L671.9 635.7L672.9 632L673.9 628.8L675 631L676 633.7L677.1 638.9L678.1 637.2L679.1 635.5L680.2 633.1L681.2 637.5L682.3 643L683.3 642.8L684.3 635.3L685.4 629.8L686.4 629.2L687.5 628.6L688.5 627.5L689.5 627.6L690.6 633.3L691.6 629.3L692.7 628.4L693.7 630.8L694.7 632L695.8 634.5L696.8 629L697.9 625.3L698.9 628.4L699.9 623.7L701 625.8L702 624.5L703.1 621.7L704.1 619.9L705.1 620.4L706.2 622.1L707.2 624.4L708.3 630.1L709.3 623.4L710.3 620.6L711.4 616.3L712.4 612.3L713.5 611.8L714.5 618.9L715.5 620.9L716.6 617.8L717.6 614.8L718.7 603.6L719.7 598.2L720.7 610.1L721.8 611L722.8 610.6L723.9 611.1L724.9 610.5L725.9 610.2L727 609.4L728 610.3L729.1 609.4L730.1 607.9L731.1 607.8L732.2 611.1L733.2 605.2L734.3 608.2L735.3 605L736.3 604.7L737.4 603.4L738.4 602.6L739.5 601.5L740.5 600.5L741.5 600L742.6 604.7L743.6 612.5L744.7 614.9L745.7 612L746.7 609.7L747.8 608L748.8 605L749.9 608.1L750.9 605.5L751.9 603.1L753 603.6L754 604.8L755.1 607.9L756.1 604.3L757.1 608.9L758.2 607.6L759.2 602.7L760.3 599.5L761.3 598L762.3 597.7L763.4 596L764.4 593.5L765.5 589.4L766.5 584.9L767.5 580.9L768.6 582.3L769.6 590.3L770.7 588.4L771.7 592.7L772.7 587.3L773.8 588.2L774.8 590.6L775.9 594L776.9 595.2L777.9 592L779 588.2L780 586.8L781.1 586.4L782.1 587.6L783.1 588L784.2 587.1L785.2 594.2L786.3 591.8L787.3 583.6L788.3 580.2L789.4 585.9L790.4 587L791.5 591.2L792.5 588.8L793.5 594.1L794.6 597.3L795.6 606.6L796.7 607.5L797.7 614.9L798.7 620.5L799.8 626.5L800.8 628.3L801.9 630.2L802.9 625.9L803.9 619.3L805 610.9L806 610.2L807.1 608.7L808.1 603.1L809.1 609.5L810.2 611.3L811.2 613.5L812.3 611.2L813.3 608.6L814.3 609.2L815.4 602.8L816.4 603.4L817.5 600.2L818.5 609.5L819.5 611.1L820.6 607.1L821.6 607.7L822.7 611.3L823.7 608.9L824.7 603.5L825.8 597.8L826.8 597.2L827.9 601.2L828.9 606L829.9 611.4L831 611.5L832 606.5L833.1 604L834.1 608.8L835.1 611.2L836.2 615.3L837.2 615.7L838.3 623L839.3 620.9L840.3 621.7L841.4 622.3L842.4 623.6L843.5 627.2L844.5 630.2L845.5 631.1L846.6 627.1L847.6 624.6L848.7 623.8L849.7 624.3L850.7 624.3L851.8 625.2L852.8 625.2L853.9 626.7L854.9 623.1L855.9 623.6L857 619.8L858 616.4L859.1 618L860.1 630.7L861.1 629L862.2 626.3L863.2 624.9L864.3 622.1L865.3 621.4L866.3 621.4L867.4 622.5L868.4 620.5L869.5 625.2L870.5 625.7L871.5 628.9L872.6 628.7L873.6 623L874.7 623.7L875.7 625.7L876.7 632.4L877.8 650.7L878.8 655.8L879.9 653.1L880.9 646.5L881.9 642.8L883 642.8L884 641.4L885.1 645.6L886.1 651.5L887.1 654.7L888.2 659.2L889.2 664.4L890.3 666.6L891.3 669L892.3 671.2L893.4 671.8L894.4 676.3L895.5 681.8L896.5 685.2L897.5 685.9L898.6 685L899.6 686.1L900.7 695.4L901.7 700.1L902.7 692.1L903.8 691.5L904.8 692.6L905.9 699.4L906.9 707.8L907.9 700.7L909 699.3L910 692.7L911.1 691L912.1 690.4L913.1 697.5L914.2 695.4L915.2 697.1L916.3 694.6L917.3 692.2L918.3 689.7L919.4 691.5L920.4 693.1L921.5 695L922.5 690.7L923.5 687.7L924.6 682.2L925.6 685.7L926.7 684.3L927.7 686L928.7 677.8L929.8 676.1L930.8 675.2L931.9 673.8L932.9 669L933.9 659.9L935 645L936 624.2L937.1 635.1L938.1 648.1L939.1 659.6L940.2 670.1L941.2 678.7L942.3 680.2L943.3 682.6L944.3 676.6L945.4 671.7L946.4 673.7L947.5 676.5L948.5 678.8L949.5 681.7L950.6 677.7L951.6 679.5L952.7 678.9L953.7 684.9L954.7 689.9L955.8 680.6L956.8 681.2L957.9 679.4L958.9 679.5L959.9 680.1L961 682.9L962 686.7L963.1 689.5L964.1 690L965.1 692.9L966.2 691.7L967.2 695L968.3 696.9L969.3 701L970.3 693.4L971.4 691.1L972.4 701L973.5 694.9L974.5 688.9L975.5 681.7L976.6 676.9L977.6 672.8L978.7 668L979.7 666L980.7 664.5L981.8 668.4L982.8 669.8L983.9 673.9L984.9 673.5L985.9 671.4L987 665.4L988 664.7L989.1 667.5L990.1 669.2L991.1 667.2L992.2 661L993.2 660.4L994.3 656.3L995.3 651.4L996.3 649.7L997.4 656L998.4 664.5L999.5 674.3L1000.5 684.8L1001.5 689.2L1002.6 681.9L1003.6 668.8L1004.7 668.3L1005.7 666.1L1006.7 666.5L1007.8 664.2L1008.8 670.3L1009.9 670.7L1010.9 677L1011.9 684.8L1013 674.8L1014 673L1015.1 669.5L1016.1 669.5L1017.1 669.1L1018.2 665.6L1019.2 666.5L1020.3 666L1021.3 664.5L1022.3 663.4L1023.4 658.6L1024.4 659.3L1025.5 657.6L1026.5 658L1027.5 657.2L1028.6 656L1029.6 656.5L1030.7 657.1L1031.7 655.5L1032.7 661.4L1033.8 659.7L1034.8 659.5L1035.9 657.9L1036.9 655.2L1037.9 656.3L1039 659.7L1040 661.6L1041.1 670.1L1042.1 680.5L1043.1 683.9L1044.2 676.7L1045.2 671.3L1046.3 677.8L1047.3 678.2L1048.3 681.8L1049.4 683.1L1050.4 686L1051.5 694.7L1052.5 699.1L1053.5 703.9L1054.6 708.4L1055.6 709.8L1056.7 711.7L1057.7 711.8L1058.7 709L1059.8 704.4L1060.8 706L1061.9 706.1L1062.9 713.4L1063.9 710.6L1065 702.2L1066 691.4L1067.1 708.1L1068.1 721.4L1069.1 724.7L1070.2 709.7L1071.2 692.9L1072.3 700.3L1073.3 709.4L1074.3 713.5L1075.4 703.3L1076.4 694.6L1077.5 695.1L1078.5 691.8L1079.5 705.9L1080.6 714.7L1081.6 712.2L1082.7 706.2L1083.7 709.5L1084.7 713.7L1085.8 717.8L1086.8 713.7L1087.9 713L1088.9 708.7L1089.9 712L1091 719.8L1092 725L1093.1 728L1094.1 733.1L1095.1 728.7L1096.2 722.1L1097.2 718.4L1098.3 714.8L1099.3 711.7L1100.3 711.2L1101.4 713.4L1102.4 713.4L1103.5 714.7L1104.5 713.2L1105.5 711.4L1106.6 708.1L1107.6 718.8L1108.7 720.5L1109.7 714.8L1110.7 710.7L1111.8 704.8L1112.8 699.8L1113.9 698.3L1114.9 698.2L1115.9 701.5L1117 704.2L1118 708.4L1119.1 707.2L1120.1 708.1L1121.1 711.1L1122.2 717.6L1123.2 708.3L1124.3 704.3L1125.3 699.8L1126.3 695L1127.4 692.1L1128.4 688.6L1129.5 690.9L1130.5 696.8L1131.5 695.7L1132.6 702.2L1133.6 704.1L1134.7 705.2L1135.7 701L1136.7 700L1137.8 698.8L1138.8 701.4L1139.9 705.7L1140.9 703.1L1141.9 696.8L1143 690.8L1144 688.6L1145.1 686L1146.1 682L1147.1 684.2L1148.2 687.4L1149.2 690.5L1150.3 691.1L1151.3 693.2L1152.3 697L1153.4 695.8L1154.4 700.5L1155.5 695.9L1156.5 697L1157.5 698.7L1158.6 694.7L1159.6 694.3L1160.7 695.9L1161.7 692.5L1162.7 701.8L1163.8 707L1164.8 706.8L1165.9 704.3L1166.9 703.7L1167.9 698.8L1169 701.7L1170 700.7L1171.1 698.9L1172.1 689.2L1173.1 683.4L1174.2 683.9L1175.2 686.9L1176.3 689.9L1177.3 692.6L1178.3 694.8L1179.4 696.1L1180.4 696.5L1181.5 694.6L1182.5 691.5L1183.5 688.5L1184.6 681.1L1185.6 674.2L1186.7 669.3L1187.7 677.7L1188.7 676.2L1189.8 678.3L1190.8 675.6L1191.9 672.1L1192.9 672.1L1193.9 674.8L1195 679.4L1196 680.3L1197.1 676.9L1198.1 672.4L1199.1 673L1200.2 675.1L1201.2 677.7L1202.3 677.9L1203.3 671.3L1204.3 668.9L1205.4 668.7L1206.4 662.5L1207.5 659.5L1208.5 658.8L1208.5 659.2" stroke="#000000" stroke-width="3.5"/>
<path class="s" d="M67.6 663.2L80 664.2L96.1 664.2L102.1 662.2L120.1 663.2L136.2 667.2L156.2 669.3L172.3 667.2L184.3 665.2L192.3 664.2L196.3 661.8L204.3 664.2L220.4 664.2L240.4 663.2L260.5 664.2L270.5 665.2L280.5 664.8L294.6 663.2L298.6 660.2L310 661.2L312 662.8L320 667.2L326.1 670.3L336.1 670.3L350.1 668.2L360.1 664.2L380.2 661.2L400.2 659.2L410.3 657.6L416.3 660.2L420.3 663.2L424.3 660.2L440.3 659.2L460.4 657.2L480.4 656.2L500.5 658.2L510.5 656.2L524.5 653.2L534.6 653.2L540.6 654.8L550 654.8L552 655.2L566.1 656.2L580.1 655.2L587.1 653.8L592.1 655.2L600.1 653.2L620.2 651.2L626.2 648.2L632.2 647.2L636.2 642.2L644.3 639.2L656.3 639.2L662.3 637.2L666.3 646.2L670.3 649.2L680.3 647.2L692.4 646.2L700.4 644.2L716.4 642.2L720.4 640.2L740.5 637.2L760.5 634.2L780.6 632.2L790 631.8L792 632.1L796 636.2L802.1 641.2L820.1 642.2L834.1 640.2L838.1 648.2L844.2 652.2L860.2 649.2L872.2 650.2L880.2 656.2L888.3 664.2L896.3 668.2L912.3 668.2L920.3 664.2L932.4 663.2L938.4 665.2L952.4 665.8L960.4 664.2L972.5 663.2L978.5 658.2L992.5 658.2L996.5 656.2L1012.6 657.2L1016.6 653.2L1030 651.2L1033.1 653.1L1042.1 652.1L1047.1 657.1L1057.1 669.2L1069.2 675.2L1081.2 678.2L1093.2 676.2L1105.3 671.2L1117.3 665.2L1129.3 662.2L1141.3 658.2L1153.4 656.1L1169.4 654.7L1185.5 653.1L1208.5 653.1" stroke="#00FF7F" stroke-width="2.95"/>
<path class="s" d="M67.6 659.2L74 658.2L78 656.2L81.1 659.2L86.1 656.2L97.1 653.2L101.1 647.2L107.1 649.2L112.1 648.2L118.1 651.2L124.2 650.2L130.2 653.2L134.2 650.2L138.2 655.2L144.2 654.2L149.2 653.2L153.2 658.2L156.2 661.2L160.2 660.2L164.3 652.2L168.3 652.2L172.3 651.2L174.7 632.2L180.3 631.2L188.3 634.2L192.3 625.1L194.3 618.1L198.3 619.1L203.3 627.1L208.4 632.2L216.4 632.2L220.4 631.2L236.4 630.2L240.4 625.1L243.4 631.2L252.5 634.2L260.5 635.2L262.9 629.2L265.5 637.2L272.5 639.2L284.5 638.2L292.6 635.2L298.6 632.2L304.6 635.2L310 640.2L312 643.2L318 651.2L324.1 656.2L336.1 658.2L346.1 656.2L354.1 655.2L360.1 648.2L368.2 644.2L380.2 639.2L386.2 634.2L394.2 636.2L402.2 635.2L409.3 631.2L416.3 640.2L420.3 647.2L424.3 634.2L436.3 635.2L446.4 633.2L452.4 629.2L460.4 627.1L470.4 625.1L478.4 622.1L484.4 626.1L492.5 629.2L500.5 628.2L508.5 620.1L516.5 620.1L522.5 614.1L534.6 615.1L540.6 620.1L550 620.1L552 619.9L558 622.1L566.1 624.2L569.1 617.1L576.1 617.1L584.1 617.1L587.1 614.1L592.1 619.1L597.1 613.1L610.2 612.5L620.2 606.1L624.2 607.1L627.2 616.1L633.2 616.1L640.2 607.1L648.3 601.1L652.3 605.1L658.3 607.1L662.3 606.1L666.3 628.2L671.3 639.2L676.3 637.2L686.4 635.2L692.4 633.2L700.4 633.2L708.4 630.6L718.4 630.6L721.4 624.2L732.5 623.8L748.5 622.1L760.5 617.1L776.6 614.5L790 613.7L792 614.1L796 630.1L802.1 640.2L820.1 640.2L834.1 638.2L838.1 649.2L843.2 654.2L850.2 650.2L868.2 647.2L872.2 642.2L875.2 650.2L884.3 656.2L889.3 678.3L895.3 688.3L902.3 684.3L912.3 685.3L918.3 678.3L920.3 674.3L928.4 670.2L935.4 670.2L940.4 671.2L952.4 671.2L956.4 666.2L960.4 670.2L972.5 668.2L978.5 652.2L990.5 652.2L995.5 647.2L1000.5 651.2L1012.6 654.2L1016.6 649.2L1030 646.2L1033.1 648.1L1042.1 648.1L1046.1 669.2L1051.1 691.2L1057.1 703.3L1063.2 713.3L1069.2 721.3L1077.2 727.3L1081.2 731.3L1087.2 728.3L1093.2 732.3L1099.2 723.3L1106.3 720.3L1112.3 710.3L1119.3 701.3L1125.3 693.2L1133.3 691.2L1136.3 680.2L1143.4 681.2L1149.4 678.2L1157.4 676.2L1169.4 676.2L1177.4 671.2L1185.5 665.2L1197.5 665.2L1208.5 664.2" stroke="#00FFFF" stroke-width="2.95"/>
<path class="s" d="M67.6 636.2L80 638.2L100.1 638.8L120.1 639.2L140.2 641.2L160.2 642.2L180.3 642.2L200.3 644.2L216.4 647.2L230.4 653.2L240.4 656.2L250.5 657.2L260.5 656.8L270.5 656.2L280.5 655.2L300.6 653.2L310 653.2L312 653.6L320 656.2L336.1 659.2L350.1 658.2L364.2 656.2L380.2 649.2L390.2 644.2L404.3 640.8L420.3 639.6L440.3 638.2L460.4 635.6L480.4 636.8L500.5 638.8L520.5 638.8L540.6 636.2L550 635.2L552 635.8L566.1 634.6L588.1 633.2L600.1 627.2L620.2 616.1L636.2 605.1L646.3 599.1L652.3 600.1L660.3 603.1L670.3 609.1L680.3 614.1L692.4 615.7L700.4 616.5L714.4 616.1L720.4 615.7L732.5 611.1L748.5 606.1L760.5 603.1L774.6 599.1L780.6 601.1L790 603.7L800 606.1L820.1 613.1L832.1 617.1L850.2 616.5L868.2 615.1L876.2 624.1L886.3 638.2L900.3 656.2L916.3 666.2L930.4 676.3L944.4 675.3L960.4 674.3L970.5 671.2L980.5 666.2L992.5 662.2L1006.5 661.2L1020.6 659.2L1026.6 660.2L1030 664.2L1037.1 669.2L1053.1 681.2L1069.2 691.2L1085.2 699.3L1101.3 702.3L1113.3 703.3L1125.3 697.2L1137.3 691.2L1149.4 686.2L1165.4 682.2L1181.4 678.2L1193.5 673.2L1208.5 667.2" stroke="#000080" stroke-width="2.95"/>
<path class="s" d="M67.6 665.2L74 665.2L77 662.2L82.1 667.2L88.1 664.2L97.1 664.2L101.1 656.2L107.1 659.2L112.1 658.2L118.1 662.2L124.2 660.2L130.2 665.2L134.2 665.2L138.2 670.3L144.2 669.3L149.2 670.3L153.2 680.3L156.2 681.3L162.2 679.3L165.3 669.3L172.3 669.3L174.7 634.2L180.3 635.2L188.3 637.2L192.3 625.1L194.7 620.1L198.3 623.1L203.3 633.2L208.4 639.2L216.4 640.2L220.4 636.2L228.4 637.2L236.4 636.2L240.4 634.2L244.4 645.2L250.5 647.2L260.5 649.2L262.9 643.2L266.5 655.2L272.5 654.2L280.5 653.2L286.5 651.2L292.6 643.2L298.6 636.2L304.6 643.2L310 647.2L312 649.2L314 651.2L320 665.2L324.1 672.3L333.1 676.3L342.1 671.3L352.1 668.2L358.1 657.2L362.1 651.2L368.2 651.2L374.2 645.2L380.2 642.2L387.2 634.2L392.2 638.2L396.2 640.2L402.2 637.2L409.3 629.2L414.3 637.2L420.3 654.2L424.3 626.1L430.3 625.1L438.3 628.2L446.4 627.1L452.4 625.1L460.4 624.1L470.4 622.1L478.4 621.1L484.4 625.1L492.5 629.2L500.5 630.2L508.5 622.1L516.5 622.1L522.5 613.1L534.6 615.1L540.6 623.1L550 622.1L552 621.7L558 625.2L566.1 627.2L569.1 608.1L574.1 613.1L584.1 613.1L587.1 608.1L591.1 614.1L597.1 605.1L609.2 603.1L613.2 605.1L616.2 598.1L623.2 589.1L627.2 599.1L633.2 598.1L637.2 585.1L644.3 577L648.3 578L650.3 584.1L657.3 587.1L660.3 577L662.7 577L665.3 596.1L668.3 630.2L671.3 641.2L676.3 631.2L680.3 628.2L686.4 627.2L692.4 626.2L698.4 622.1L704.4 617.1L712.4 616.1L718.4 614.1L721.4 608.1L732.5 607.1L740.5 606.1L748.5 601.1L756.5 597.1L764.5 594.1L776.6 592.1L790 591.1L792 592.1L796 610.1L801.1 623.1L806.1 624.1L810.1 615.1L815.1 615.1L820.1 621.1L825.1 617.1L834.1 616.1L838.1 646.2L843.2 650.2L850.2 647.2L862.2 645.2L872.2 649.2L876.2 662.2L884.3 670.2L888.3 706.3L894.3 722.4L900.3 719.4L908.3 718.4L913.3 719.4L917.3 712.3L920.3 698.3L928.4 695.3L936.4 695.3L939.4 707.3L944.4 708.3L952.4 708.3L956.4 688.3L961.4 694.3L969.5 694.3L973.5 684.3L978.5 655.2L990.5 654.2L995.5 641.2L1000.5 644.2L1009.6 645.2L1013.6 657.2L1017.6 626.1L1024.6 623.1L1030 622.5L1033.1 623.5L1042.1 624.1L1045.1 641.1L1048.1 675.2L1053.1 703.3L1059.1 713.3L1064.2 731.3L1069.2 737.3L1073.2 736.3L1081.2 747.4L1085.2 739.3L1093.2 741.4L1097.2 723.3L1103.3 715.3L1108.3 716.3L1113.3 703.3L1117.3 687.2L1122.3 685.2L1125.3 670.2L1133.3 665.2L1136.3 660.2L1139.3 665.2L1142.3 653.1L1147.4 646.1L1157.4 645.1L1163.4 644.1L1169.4 646.1L1173.4 640.1L1185.5 638.1L1193.5 637.1L1201.5 639.1L1208.5 638.1" stroke="#DC143C" stroke-width="2.95"/>
<path class="s" d="M67.6 634.2L74 635.2L78 633.2L82.1 636.2L88.1 635.2L97.1 635.2L101.1 632.2L107.1 634.2L112.1 635.2L118.1 636.2L124.2 638.2L130.2 639.2L136.2 642.2L140.2 644.2L146.2 645.2L152.2 647.2L156.2 649.2L162.2 647.2L166.3 646.2L172.3 646.2L174.7 634.2L180.3 634.2L188.3 636.2L192.3 632.2L196.3 630.8L200.3 634.2L208.4 639.2L216.4 639.2L220.4 635.2L228.4 636.2L236.4 635.2L240.4 635.2L244.4 639.2L252.5 639.2L260.5 640.2L266.5 644.2L272.5 644.2L280.5 642.2L286.5 641.2L292.6 637.2L298.6 633.2L304.6 635.2L310 637.2L312 638.2L320 643.2L324.1 648.2L334.1 651.2L344.1 649.2L354.1 647.2L360.1 642.2L368.2 640.2L374.2 636.2L380.2 634.2L387.2 628.2L392.2 630.2L402.2 628.8L409.3 623.1L414.3 626.1L420.3 634.2L424.3 623.5L430.3 623.1L438.3 625.1L450.4 624.1L460.4 620.1L470.4 618.7L478.4 618.7L484.4 621.1L492.5 623.5L500.5 624.1L508.5 620.1L516.5 620.7L522.5 616.7L534.6 618.1L540.6 622.1L550 620.1L552 620.1L558 623.2L566.1 625.2L569.1 618.1L576.1 618.5L584.1 618.5L587.1 615.7L592.1 619.1L597.1 613.1L610.2 612.5L616.2 608.1L623.2 604.1L627.2 609.1L633.2 608.1L640.2 600.1L648.3 596.1L652.3 600.1L658.3 601.1L661.3 597.1L665.3 609.1L670.3 617.1L678.3 612.5L686.4 609.1L694.4 607.1L704.4 603.1L716.4 603.1L720.4 596.1L732.5 593.1L744.5 592.1L750.5 588.1L758.5 583.7L770.6 581.7L780.6 580.6L790 580.6L794 583L798 592.1L802.1 596.1L808.1 596.1L810.1 592.1L817.1 595.1L823.1 594.1L834.1 593.7L838.1 602.1L842.1 607.1L850.2 606.1L862.2 604.5L872.2 608.1L878.2 615.1L884.3 619.1L889.3 634.2L894.3 641.2L904.3 643.2L912.3 644.2L920.3 640.2L928.4 640.2L935.4 641.2L940.4 648.2L946.4 650.2L952.4 649.2L956.4 643.2L962.4 646.2L969.5 645.2L975.5 633.2L980.5 632.1L990.5 630.1L995.5 626.1L1000.5 625.1L1009.6 627.1L1013.6 630.1L1017.6 619.1L1024.6 617.1L1030 617.1L1033.1 616.3L1042.1 617.1L1046.1 629.1L1051.1 638.1L1057.1 645.1L1063.2 653.1L1069.2 659.2L1076.2 667.2L1081.2 673.2L1087.2 669.2L1093.2 671.2L1099.2 661.2L1107.3 657.1L1113.3 648.1L1119.3 641.1L1125.3 634.1L1135.3 631.1L1139.3 632.1L1145.4 622.1L1157.4 620.1L1169.4 620.1L1173.4 617.1L1185.5 615L1197.5 617.1L1208.5 616.1" stroke="#FF00FF" stroke-width="2.95"/>
<path class="s" d="M67.6 650.2L74 649.2L78 648.2L82.1 651.2L88.1 650.2L97.1 650.2L101.1 646.8L107.1 649.2L112.1 649.2L118.1 652.2L124.2 651.2L130.2 654.2L136.2 656.2L140.2 658.2L146.2 657.2L152.2 661.2L156.2 664.2L162.2 663.2L166.3 661.2L172.3 661.2L174.7 647.2L180.3 648.2L188.3 650.2L192.3 645.2L196.3 643.2L200.3 646.2L208.4 652.2L216.4 652.2L220.4 649.2L228.4 650.2L236.4 648.2L240.4 647.2L244.4 651.2L252.5 652.2L260.5 654.2L262.9 651.2L266.5 658.2L272.5 657.2L280.5 656.2L286.5 654.2L292.6 649.2L298.6 645.2L304.6 648.2L310 650.2L312 654.2L314 655.2L320 661.2L324.1 664.2L333.1 666.2L342.1 664.2L352.1 662.2L358.1 655.2L362.1 652.2L368.2 653.2L374.2 648.2L380.2 645.2L387.2 640.2L392.2 643.2L402.2 641.2L409.3 635.2L414.3 641.2L420.3 649.2L424.3 636.2L430.3 636.2L438.3 638.2L450.4 637.2L460.4 632.2L470.4 631.2L478.4 630.2L484.4 633.2L492.5 636.2L500.5 637.2L508.5 633.2L516.5 632.2L522.5 628.2L534.6 629.2L540.6 633.2L550 630.2L552 630.6L558 633.2L566.1 636.2L569.1 629.8L576.1 630.6L584.1 630.2L587.1 628.2L591.1 631.8L597.1 625.8L610.2 624.2L616.2 619.1L623.2 613.1L627.2 620.1L633.2 619.1L640.2 610.1L648.3 605.1L652.3 610.1L658.3 611.1L662.3 608.1L666.3 622.1L670.3 631.2L676.3 626.2L686.4 623.2L692.4 621.1L700.4 619.7L704.4 616.1L712.4 617.1L718.4 616.1L721.4 609.1L732.5 607.1L740.5 606.5L748.5 601.1L756.5 598.1L764.5 595.1L776.6 593.1L790 592.5L793 593.7L797 606.1L802.1 611.1L808.1 610.1L810.1 607.1L817.1 609.1L823.1 608.1L834.1 608.1L838.1 618.1L842.1 623.1L850.2 622.5L862.2 621.1L872.2 625.1L878.2 632.1L884.3 636.2L889.3 655.2L894.3 663.2L904.3 664.2L912.3 665.8L920.3 661.2L928.4 660.2L935.4 661.2L940.4 668.2L946.4 669.2L952.4 668.2L956.4 662.2L962.4 665.2L969.5 664.2L975.5 650.2L980.5 649.2L990.5 648.2L995.5 642.2L1000.5 644.2L1009.6 646.2L1013.6 650.2L1017.6 636.2L1024.6 633.8L1030 633.2L1033.1 633.5L1042.1 634.1L1046.1 647.1L1051.1 658.2L1057.1 668.2L1063.2 678.2L1069.2 687.2L1076.2 694.2L1081.2 699.3L1087.2 694.2L1093.2 695.2L1099.2 685.2L1107.3 681.2L1113.3 671.2L1117.3 664.2L1125.3 655.1L1135.3 653.1L1139.3 655.1L1145.4 643.1L1157.4 642.1L1163.4 641.1L1169.4 642.1L1173.4 637.1L1185.5 635.1L1193.5 634.7L1201.5 637.1L1208.5 636.1" stroke="#FFA500" stroke-width="2.95"/>
</g>
<rect x="67.3" y="512.9" width="1141.1" height="236.1" fill="none" stroke="#000" stroke-width="2.05"/>
<path d="M67.3 749v4.9M192.4 749v4.9M320.5 749v4.9M447.7 749v4.9M572.7 749v4.9M700.9 749v4.9M828 749v4.9M953.1 749v4.9M1081.3 749v4.9M1208.4 749v4.9M67.3 693.6h-4.9M67.3 631.3h-4.9M67.3 569h-4.9" stroke="#000" stroke-width="2.0" fill="none"/>
<text class="tk" x="58.5" y="700.9" text-anchor="end">−2</text>
<text class="tk" x="58.5" y="638.6" text-anchor="end">0</text>
<text class="tk" x="58.5" y="576.3" text-anchor="end">2</text>
</g>
<text class="tk" x="67.3" y="773.3" text-anchor="middle">2001-01</text>
<text class="tk" x="192.4" y="773.3" text-anchor="middle">2001-05</text>
<text class="tk" x="320.5" y="773.3" text-anchor="middle">2001-09</text>
<text class="tk" x="447.7" y="773.3" text-anchor="middle">2002-01</text>
<text class="tk" x="572.7" y="773.3" text-anchor="middle">2002-05</text>
<text class="tk" x="700.9" y="773.3" text-anchor="middle">2002-09</text>
<text class="tk" x="828" y="773.3" text-anchor="middle">2003-01</text>
<text class="tk" x="953.1" y="773.3" text-anchor="middle">2003-05</text>
<text class="tk" x="1081.3" y="773.3" text-anchor="middle">2003-09</text>
<text class="tk" x="1208.4" y="773.3" text-anchor="middle">2004-01</text>
<text class="lb" x="637.5" y="801.4" text-anchor="middle">Time</text>
<text class="lb" transform="translate(24.2 125.7) rotate(-90)" text-anchor="middle">Shoreline [m]</text>
<text class="lb" transform="translate(24.2 378.2) rotate(-90)" text-anchor="middle">Shoreline [m]</text>
<text class="lb" transform="translate(20.3 630.5) rotate(-90)" text-anchor="middle">Rotation [°]</text>
<text class="pl" x="81.5" y="220.2">a)</text>
<text class="pl" x="81.5" y="472.6">b)</text>
<text class="pl" x="81.5" y="717.7">c)</text>
<path d="M300.4 195.7H336.2" stroke="#000000" stroke-width="3.2" fill="none"/>
<text class="lg" x="348" y="201.5">Data</text>
<path d="M300.4 219.9H336.2" stroke="#FFA500" stroke-width="2.95" fill="none"/>
<text class="lg" x="348" y="225.8">HM1</text>
<path d="M418.2 195.7H454" stroke="#00FF7F" stroke-width="2.95" fill="none"/>
<text class="lg" x="465.8" y="201.5">HM2</text>
<path d="M418.2 219.9H454" stroke="#6495ED" stroke-width="2.95" fill="none"/>
<text class="lg" x="465.8" y="225.8">HM3</text>
<path d="M533.1 195.7H568.9" stroke="#A0522D" stroke-width="2.95" fill="none"/>
<text class="lg" x="580.7" y="201.5">HM4</text>
<path d="M533.1 219.9H568.9" stroke="#800080" stroke-width="2.95" fill="none"/>
<text class="lg" x="580.7" y="225.8">HM5</text>
<path d="M648.5 195.7H684.3" stroke="#FF00FF" stroke-width="2.95" fill="none"/>
<text class="lg" x="696.1" y="201.5">HM6</text>
<path d="M648.5 219.9H684.3" stroke="#3CB371" stroke-width="2.95" fill="none"/>
<text class="lg" x="696.1" y="225.8">HM7</text>
<path d="M763.9 195.7H799.7" stroke="#00FFFF" stroke-width="2.95" fill="none"/>
<text class="lg" x="811.6" y="201.5">HM8</text>
<path d="M763.9 219.9H799.7" stroke="#000080" stroke-width="2.95" fill="none"/>
<text class="lg" x="811.6" y="225.8">HM9</text>
<path d="M879.4 195.7H915.2" stroke="#DC143C" stroke-width="2.95" fill="none"/>
<text class="lg" x="926.5" y="201.5">HM10</text>
<path d="M395 448.8H430.8" stroke="#000000" stroke-width="3.6" fill="none"/>
<text class="lg" x="443" y="454.7">Data</text>
<path d="M395 472.5H430.8" stroke="#006400" stroke-width="2.95" fill="none"/>
<text class="lg" x="443" y="478.4">kNN</text>
<path d="M513 448.8H548.8" stroke="#FFC0CB" stroke-width="2.95" fill="none"/>
<text class="lg" x="559.8" y="454.7">ANN-EI1</text>
<path d="M513 472.5H548.8" stroke="#708090" stroke-width="2.95" fill="none"/>
<text class="lg" x="559.8" y="478.4">ANN-EI2</text>
<path d="M658.2 448.8H694" stroke="#F4A460" stroke-width="2.95" fill="none"/>
<text class="lg" x="705.7" y="454.7">NeuFor</text>
<path d="M658.2 472.5H694" stroke="#FF0000" stroke-width="2.95" fill="none"/>
<text class="lg" x="705.7" y="478.4">LSTM</text>
<path d="M795.8 448.8H831.6" stroke="#4169E1" stroke-width="2.95" fill="none"/>
<text class="lg" x="843.3" y="454.7">RF</text>
<path d="M795.8 472.5H831.6" stroke="#8B0000" stroke-width="2.95" fill="none"/>
<text class="lg" x="843.3" y="478.4">BNN</text>
<path d="M202.1 534.2H237.9" stroke="#000000" stroke-width="3.6" fill="none"/>
<text class="lg" x="250.1" y="540.1">Data</text>
<path d="M320.1 534.2H355.9" stroke="#00FF7F" stroke-width="2.95" fill="none"/>
<text class="lg" x="367.7" y="540.1">R1-HM2</text>
<path d="M462.7 534.2H498.5" stroke="#00FFFF" stroke-width="2.95" fill="none"/>
<text class="lg" x="510.7" y="540.1">R2-HM8</text>
<path d="M605.6 534.2H641.4" stroke="#000080" stroke-width="2.95" fill="none"/>
<text class="lg" x="653.4" y="540.1">R3-HM9</text>
<path d="M748.9 534.2H784.7" stroke="#DC143C" stroke-width="2.95" fill="none"/>
<text class="lg" x="796.9" y="540.1">R4-HM10</text>
<path d="M902.4 534.2H938.2" stroke="#FF00FF" stroke-width="2.95" fill="none"/>
<text class="lg" x="950.3" y="540.1">R5</text>
<path d="M1002.4 534.2H1038.2" stroke="#FFA500" stroke-width="2.95" fill="none"/>
<text class="lg" x="1050" y="540.1">R6</text>
</svg></body></html>
